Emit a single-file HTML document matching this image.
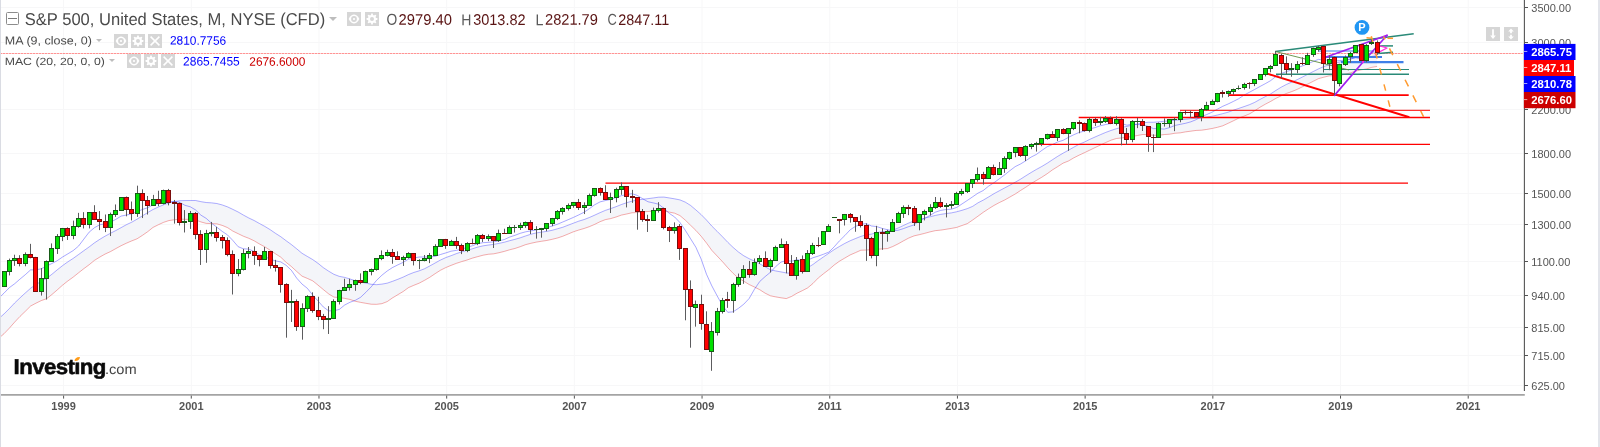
<!DOCTYPE html>
<html><head><meta charset="utf-8"><title>S&amp;P 500 Chart</title>
<style>
html,body{margin:0;padding:0;background:#fff;}
body{width:1600px;height:447px;overflow:hidden;position:relative;font-family:"Liberation Sans",sans-serif;}
#chart{position:absolute;left:0;top:0;width:1600px;height:447px;will-change:transform;}
#lb{position:absolute;left:0;top:0;width:1.2px;height:447px;background:#dadce3;}
#rb{position:absolute;left:1597.8px;top:0;width:2.2px;height:447px;background:#e3e5eb;}
.t{position:absolute;white-space:nowrap;line-height:1;transform-origin:0 0;will-change:transform;}
.ic{position:absolute;background:#d6d6d6;width:14px;height:14px;}
.ic svg{position:absolute;left:0;top:0;}
.arr{position:absolute;width:0;height:0;border-left:3.5px solid transparent;border-right:3.5px solid transparent;border-top:3.5px solid #bdbdbd;}
</style></head><body>
<svg id="chart" width="1600" height="447" viewBox="0 0 1600 447">
<line x1="63.6" y1="0" x2="63.6" y2="395" stroke="#f7f7f8" stroke-width="1"/>
<line x1="191.29" y1="0" x2="191.29" y2="395" stroke="#f7f7f8" stroke-width="1"/>
<line x1="318.98" y1="0" x2="318.98" y2="395" stroke="#f7f7f8" stroke-width="1"/>
<line x1="446.68" y1="0" x2="446.68" y2="395" stroke="#f7f7f8" stroke-width="1"/>
<line x1="574.37" y1="0" x2="574.37" y2="395" stroke="#f7f7f8" stroke-width="1"/>
<line x1="702.06" y1="0" x2="702.06" y2="395" stroke="#f7f7f8" stroke-width="1"/>
<line x1="829.75" y1="0" x2="829.75" y2="395" stroke="#f7f7f8" stroke-width="1"/>
<line x1="957.44" y1="0" x2="957.44" y2="395" stroke="#f7f7f8" stroke-width="1"/>
<line x1="1085.14" y1="0" x2="1085.14" y2="395" stroke="#f7f7f8" stroke-width="1"/>
<line x1="1212.83" y1="0" x2="1212.83" y2="395" stroke="#f7f7f8" stroke-width="1"/>
<line x1="1340.52" y1="0" x2="1340.52" y2="395" stroke="#f7f7f8" stroke-width="1"/>
<line x1="1468.21" y1="0" x2="1468.21" y2="395" stroke="#f7f7f8" stroke-width="1"/>
<line x1="0" y1="7.5" x2="1522.6" y2="7.5" stroke="#f7f7f8" stroke-width="1"/>
<line x1="0" y1="42.5" x2="1522.6" y2="42.5" stroke="#f7f7f8" stroke-width="1"/>
<line x1="0" y1="109.5" x2="1522.6" y2="109.5" stroke="#f7f7f8" stroke-width="1"/>
<line x1="0" y1="153.5" x2="1522.6" y2="153.5" stroke="#f7f7f8" stroke-width="1"/>
<line x1="0" y1="193.5" x2="1522.6" y2="193.5" stroke="#f7f7f8" stroke-width="1"/>
<line x1="0" y1="224.5" x2="1522.6" y2="224.5" stroke="#f7f7f8" stroke-width="1"/>
<line x1="0" y1="261.5" x2="1522.6" y2="261.5" stroke="#f7f7f8" stroke-width="1"/>
<line x1="0" y1="295.5" x2="1522.6" y2="295.5" stroke="#f7f7f8" stroke-width="1"/>
<line x1="0" y1="327.5" x2="1522.6" y2="327.5" stroke="#f7f7f8" stroke-width="1"/>
<line x1="0" y1="355.5" x2="1522.6" y2="355.5" stroke="#f7f7f8" stroke-width="1"/>
<line x1="0" y1="385.5" x2="1522.6" y2="385.5" stroke="#f7f7f8" stroke-width="1"/>
<path d="M-1.31,318.62 L4.01,313.96 L9.33,308.63 L14.65,302.96 L19.97,297.89 L25.3,292.97 L30.62,288.25 L35.94,284.39 L41.26,281.53 L46.58,278.35 L51.91,274.27 L57.23,269.84 L62.55,265.63 L67.87,261.83 L73.19,258.41 L78.52,254.57 L83.84,250.7 L89.16,246.92 L94.48,242.84 L99.8,239.32 L105.13,236.13 L110.45,233.29 L115.77,230.57 L121.09,227.65 L126.41,224.7 L131.74,222.19 L137.06,219.19 L142.38,215.89 L147.7,212.55 L153.02,209.5 L158.35,206.96 L163.67,204.8 L168.99,202.88 L174.31,201.58 L179.63,200.72 L184.96,200.58 L190.28,200.53 L195.6,200.5 L200.92,201.66 L206.24,202.52 L211.57,202.87 L216.89,203.53 L222.21,204.95 L227.53,206.86 L232.85,209.38 L238.18,212.02 L243.5,215.14 L248.82,218.01 L254.14,220.52 L259.46,223.5 L264.79,226.4 L270.11,229.63 L275.43,233.31 L280.75,236.7 L286.07,240.69 L291.4,244.57 L296.72,248.85 L302.04,253.31 L307.36,256.46 L312.68,259.55 L318.01,263.34 L323.33,267.63 L328.65,271.18 L333.97,274.35 L339.29,276.37 L344.62,277.39 L349.94,278.98 L355.26,280.74 L360.58,282.23 L365.9,283.07 L371.23,284.29 L376.55,284.68 L381.87,284.14 L387.19,283.17 L392.51,281.32 L397.84,279.3 L403.16,277.11 L408.48,274.57 L413.8,272.47 L419.12,270.85 L424.45,268.81 L429.77,265.97 L435.09,263.02 L440.41,260.09 L445.73,257.61 L451.06,255.69 L456.38,253.62 L461.7,251.89 L467.02,250.37 L472.34,248.81 L477.67,247.11 L482.99,245.87 L488.31,245.05 L493.63,244.37 L498.95,243.38 L504.28,242.23 L509.6,240.71 L514.92,239.35 L520.24,237.82 L525.56,235.96 L530.89,234.24 L536.21,232.93 L541.53,232.13 L546.85,231.35 L552.17,230.29 L557.5,228.77 L562.82,227.24 L568.14,225.2 L573.46,223.17 L578.78,221.15 L584.11,219.55 L589.43,217.48 L594.75,215.11 L600.07,212.65 L605.39,210.38 L610.72,208.59 L616.04,206.69 L621.36,204.54 L626.68,202.71 L632,201.15 L637.33,200.06 L642.65,199.27 L647.97,198.67 L653.29,197.94 L658.61,197.2 L663.94,197.09 L669.26,197.95 L674.58,198.84 L679.9,199.88 L685.22,202.1 L690.55,205.41 L695.87,209.92 L701.19,214.63 L706.51,220.06 L711.83,226.11 L717.16,231.39 L722.48,236.74 L727.8,242.33 L733.12,247.43 L738.44,252.01 L743.77,255.78 L749.09,258.66 L754.41,261.09 L759.73,263.84 L765.05,266.78 L770.38,269.78 L775.7,270.93 L781.02,271.91 L786.34,272.93 L791.66,273.31 L796.99,272.12 L802.31,269.93 L807.63,267.73 L812.95,264.46 L818.27,260.52 L823.6,256.84 L828.92,253.23 L834.24,249.54 L839.56,246.4 L844.88,243.39 L850.21,240.74 L855.53,238.54 L860.85,236.38 L866.17,234.81 L871.49,234.11 L876.82,232.53 L882.14,231.69 L887.46,231.26 L892.78,230.15 L898.1,228.03 L903.43,225.49 L908.75,223.02 L914.07,220.87 L919.39,219.49 L924.71,218.14 L930.04,216.81 L935.36,215.41 L940.68,214.39 L946,213.57 L951.32,212.9 L956.65,211.79 L961.97,210.32 L967.29,208.64 L972.61,206.38 L977.93,202.86 L983.26,200.12 L988.58,196.97 L993.9,193.72 L999.22,190.84 L1004.54,187.99 L1009.87,185.2 L1015.19,182.22 L1020.51,179.21 L1025.83,175.79 L1031.15,172.49 L1036.48,169.39 L1041.8,166.47 L1047.12,163.28 L1052.44,159.76 L1057.76,156.3 L1063.09,153.18 L1068.41,150.24 L1073.73,147.23 L1079.05,144.31 L1084.37,142.08 L1089.7,139.4 L1095.02,137.02 L1100.34,134.69 L1105.66,132.44 L1110.98,130.48 L1116.31,128.74 L1121.63,127.31 L1126.95,126.4 L1132.27,125.18 L1137.59,123.94 L1142.92,122.84 L1148.24,122.24 L1153.56,122.27 L1158.88,121.84 L1164.2,121.28 L1169.53,120.84 L1174.85,120.31 L1180.17,119.78 L1185.49,119.25 L1190.81,118.65 L1196.14,118.39 L1201.46,117.89 L1206.78,117.11 L1212.1,116.26 L1217.42,115.02 L1222.75,113.65 L1228.07,112.21 L1233.39,110.21 L1238.71,108.42 L1244.03,106.61 L1249.36,104.72 L1254.68,102.38 L1260,99.42 L1265.32,96.65 L1270.64,93.92 L1275.97,90.38 L1281.29,87.14 L1286.61,84.35 L1291.93,82.04 L1297.25,79.62 L1302.58,76.93 L1307.9,74.23 L1313.22,71.54 L1318.54,68.87 L1323.86,66.53 L1329.19,64.85 L1334.51,63.22 L1339.83,62.05 L1345.15,60.61 L1350.47,59.12 L1355.8,57.31 L1361.12,55.61 L1366.44,54.13 L1371.76,52.71 L1377.08,51.49 L1377.08,66.44 L1371.76,67.33 L1366.44,68.95 L1361.12,69.82 L1355.8,71.09 L1350.47,72.9 L1345.15,74.23 L1339.83,75.4 L1334.51,75.79 L1329.19,75.87 L1323.86,77.19 L1318.54,78.62 L1313.22,81.31 L1307.9,84 L1302.58,86.74 L1297.25,89.35 L1291.93,91.52 L1286.61,93.39 L1281.29,95.77 L1275.97,98.31 L1270.64,101.44 L1265.32,104.2 L1260,107.24 L1254.68,110.76 L1249.36,113.96 L1244.03,116.13 L1238.71,118.13 L1233.39,120.8 L1228.07,123.34 L1222.75,125.8 L1217.42,127.3 L1212.1,128.47 L1206.78,129.43 L1201.46,130.19 L1196.14,130.43 L1190.81,131.17 L1185.49,131.89 L1180.17,132.85 L1174.85,133.26 L1169.53,134.21 L1164.2,134.56 L1158.88,135.28 L1153.56,135.31 L1148.24,134.72 L1142.92,134.46 L1137.59,135.46 L1132.27,136.5 L1126.95,137.38 L1121.63,137.95 L1116.31,138.51 L1110.98,140.21 L1105.66,142.57 L1100.34,145.11 L1095.02,147.59 L1089.7,150.18 L1084.37,152.72 L1079.05,155.2 L1073.73,157.89 L1068.41,161.02 L1063.09,163.14 L1057.76,166.59 L1052.44,169.89 L1047.12,173.78 L1041.8,177.23 L1036.48,180.4 L1031.15,183.59 L1025.83,187.17 L1020.51,190.54 L1015.19,194.02 L1009.87,197.05 L1004.54,200.08 L999.22,202.62 L993.9,205.49 L988.58,208.8 L983.26,212.32 L977.93,216.22 L972.61,220.04 L967.29,223.66 L961.97,225.5 L956.65,227.43 L951.32,228.41 L946,229.29 L940.68,230.11 L935.36,230.65 L930.04,231.86 L924.71,233.33 L919.39,234.67 L914.07,235.86 L908.75,238.02 L903.43,240.89 L898.1,243.89 L892.78,246.52 L887.46,248.55 L882.14,248.86 L876.82,249.37 L871.49,249.66 L866.17,250.06 L860.85,250.21 L855.53,252.62 L850.21,254.91 L844.88,258.03 L839.56,261.15 L834.24,264.97 L828.92,269.58 L823.6,273.67 L818.27,277.96 L812.95,283.47 L807.63,287.9 L802.31,290.67 L796.99,293.23 L791.66,296.37 L786.34,298.58 L781.02,297.81 L775.7,296.89 L770.38,295.77 L765.05,293.13 L759.73,289.69 L754.41,287 L749.09,284.47 L743.77,281.21 L738.44,278.19 L733.12,273.33 L727.8,267.75 L722.48,261.68 L717.16,256.03 L711.83,250.39 L706.51,243.06 L701.19,236.29 L695.87,230.4 L690.55,225.26 L685.22,220.06 L679.9,215.57 L674.58,213.18 L669.26,212.08 L663.94,210.8 L658.61,210.37 L653.29,211.02 L647.97,211.52 L642.65,211.78 L637.33,212.55 L632,212.75 L626.68,213.99 L621.36,215.1 L616.04,217.01 L610.72,218.59 L605.39,219.61 L600.07,221.7 L594.75,224.34 L589.43,226.64 L584.11,228.48 L578.78,230.03 L573.46,231.77 L568.14,234.03 L562.82,236.23 L557.5,237.99 L552.17,239.31 L546.85,240.46 L541.53,241.25 L536.21,242.13 L530.89,243.31 L525.56,244.66 L520.24,246.7 L514.92,248.47 L509.6,249.79 L504.28,251.4 L498.95,252.73 L493.63,253.83 L488.31,254.25 L482.99,255.22 L477.67,256.65 L472.34,258.14 L467.02,260.04 L461.7,261.59 L456.38,263.34 L451.06,265.38 L445.73,267.6 L440.41,270.29 L435.09,273.69 L429.77,277.29 L424.45,280.36 L419.12,283.19 L413.8,285.3 L408.48,287.61 L403.16,291.52 L397.84,294.7 L392.51,297.9 L387.19,301.6 L381.87,303.66 L376.55,304.34 L371.23,304.22 L365.9,303.3 L360.58,302.36 L355.26,301.27 L349.94,299.44 L344.62,298.35 L339.29,297.6 L333.97,297.11 L328.65,293.89 L323.33,289.57 L318.01,285.12 L312.68,280.82 L307.36,278.41 L302.04,276.17 L296.72,271.46 L291.4,266.56 L286.07,262.31 L280.75,257.18 L275.43,253.75 L270.11,250.22 L264.79,246.82 L259.46,243.97 L254.14,240.81 L248.82,238.29 L243.5,236.28 L238.18,233.7 L232.85,231.1 L227.53,227.61 L222.21,225.38 L216.89,223.85 L211.57,223.6 L206.24,223.39 L200.92,221.93 L195.6,219.88 L190.28,219.37 L184.96,219.34 L179.63,219.12 L174.31,219.77 L168.99,220.54 L163.67,222.32 L158.35,224.74 L153.02,227.41 L147.7,231.69 L142.38,235.39 L137.06,238.8 L131.74,240.89 L126.41,243.18 L121.09,245.72 L115.77,248.62 L110.45,251.61 L105.13,254.04 L99.8,257.05 L94.48,260.35 L89.16,264.73 L83.84,268.67 L78.52,272.83 L73.19,277.12 L67.87,280.93 L62.55,285.16 L57.23,289.93 L51.91,294.5 L46.58,298.72 L41.26,300.58 L35.94,303.19 L30.62,306.04 L25.3,311.32 L19.97,316.44 L14.65,322.14 L9.33,328.17 L4.01,333.74 L-1.31,338.34Z" fill="#f4f5f9" stroke="none"/>
<path d="M-1.31,318.62 L4.01,313.96 L9.33,308.63 L14.65,302.96 L19.97,297.89 L25.3,292.97 L30.62,288.25 L35.94,284.39 L41.26,281.53 L46.58,278.35 L51.91,274.27 L57.23,269.84 L62.55,265.63 L67.87,261.83 L73.19,258.41 L78.52,254.57 L83.84,250.7 L89.16,246.92 L94.48,242.84 L99.8,239.32 L105.13,236.13 L110.45,233.29 L115.77,230.57 L121.09,227.65 L126.41,224.7 L131.74,222.19 L137.06,219.19 L142.38,215.89 L147.7,212.55 L153.02,209.5 L158.35,206.96 L163.67,204.8 L168.99,202.88 L174.31,201.58 L179.63,200.72 L184.96,200.58 L190.28,200.53 L195.6,200.5 L200.92,201.66 L206.24,202.52 L211.57,202.87 L216.89,203.53 L222.21,204.95 L227.53,206.86 L232.85,209.38 L238.18,212.02 L243.5,215.14 L248.82,218.01 L254.14,220.52 L259.46,223.5 L264.79,226.4 L270.11,229.63 L275.43,233.31 L280.75,236.7 L286.07,240.69 L291.4,244.57 L296.72,248.85 L302.04,253.31 L307.36,256.46 L312.68,259.55 L318.01,263.34 L323.33,267.63 L328.65,271.18 L333.97,274.35 L339.29,276.37 L344.62,277.39 L349.94,278.98 L355.26,280.74 L360.58,282.23 L365.9,283.07 L371.23,284.29 L376.55,284.68 L381.87,284.14 L387.19,283.17 L392.51,281.32 L397.84,279.3 L403.16,277.11 L408.48,274.57 L413.8,272.47 L419.12,270.85 L424.45,268.81 L429.77,265.97 L435.09,263.02 L440.41,260.09 L445.73,257.61 L451.06,255.69 L456.38,253.62 L461.7,251.89 L467.02,250.37 L472.34,248.81 L477.67,247.11 L482.99,245.87 L488.31,245.05 L493.63,244.37 L498.95,243.38 L504.28,242.23 L509.6,240.71 L514.92,239.35 L520.24,237.82 L525.56,235.96 L530.89,234.24 L536.21,232.93 L541.53,232.13 L546.85,231.35 L552.17,230.29 L557.5,228.77 L562.82,227.24 L568.14,225.2 L573.46,223.17 L578.78,221.15 L584.11,219.55 L589.43,217.48 L594.75,215.11 L600.07,212.65 L605.39,210.38 L610.72,208.59 L616.04,206.69 L621.36,204.54 L626.68,202.71 L632,201.15 L637.33,200.06 L642.65,199.27 L647.97,198.67 L653.29,197.94 L658.61,197.2 L663.94,197.09 L669.26,197.95 L674.58,198.84 L679.9,199.88 L685.22,202.1 L690.55,205.41 L695.87,209.92 L701.19,214.63 L706.51,220.06 L711.83,226.11 L717.16,231.39 L722.48,236.74 L727.8,242.33 L733.12,247.43 L738.44,252.01 L743.77,255.78 L749.09,258.66 L754.41,261.09 L759.73,263.84 L765.05,266.78 L770.38,269.78 L775.7,270.93 L781.02,271.91 L786.34,272.93 L791.66,273.31 L796.99,272.12 L802.31,269.93 L807.63,267.73 L812.95,264.46 L818.27,260.52 L823.6,256.84 L828.92,253.23 L834.24,249.54 L839.56,246.4 L844.88,243.39 L850.21,240.74 L855.53,238.54 L860.85,236.38 L866.17,234.81 L871.49,234.11 L876.82,232.53 L882.14,231.69 L887.46,231.26 L892.78,230.15 L898.1,228.03 L903.43,225.49 L908.75,223.02 L914.07,220.87 L919.39,219.49 L924.71,218.14 L930.04,216.81 L935.36,215.41 L940.68,214.39 L946,213.57 L951.32,212.9 L956.65,211.79 L961.97,210.32 L967.29,208.64 L972.61,206.38 L977.93,202.86 L983.26,200.12 L988.58,196.97 L993.9,193.72 L999.22,190.84 L1004.54,187.99 L1009.87,185.2 L1015.19,182.22 L1020.51,179.21 L1025.83,175.79 L1031.15,172.49 L1036.48,169.39 L1041.8,166.47 L1047.12,163.28 L1052.44,159.76 L1057.76,156.3 L1063.09,153.18 L1068.41,150.24 L1073.73,147.23 L1079.05,144.31 L1084.37,142.08 L1089.7,139.4 L1095.02,137.02 L1100.34,134.69 L1105.66,132.44 L1110.98,130.48 L1116.31,128.74 L1121.63,127.31 L1126.95,126.4 L1132.27,125.18 L1137.59,123.94 L1142.92,122.84 L1148.24,122.24 L1153.56,122.27 L1158.88,121.84 L1164.2,121.28 L1169.53,120.84 L1174.85,120.31 L1180.17,119.78 L1185.49,119.25 L1190.81,118.65 L1196.14,118.39 L1201.46,117.89 L1206.78,117.11 L1212.1,116.26 L1217.42,115.02 L1222.75,113.65 L1228.07,112.21 L1233.39,110.21 L1238.71,108.42 L1244.03,106.61 L1249.36,104.72 L1254.68,102.38 L1260,99.42 L1265.32,96.65 L1270.64,93.92 L1275.97,90.38 L1281.29,87.14 L1286.61,84.35 L1291.93,82.04 L1297.25,79.62 L1302.58,76.93 L1307.9,74.23 L1313.22,71.54 L1318.54,68.87 L1323.86,66.53 L1329.19,64.85 L1334.51,63.22 L1339.83,62.05 L1345.15,60.61 L1350.47,59.12 L1355.8,57.31 L1361.12,55.61 L1366.44,54.13 L1371.76,52.71 L1377.08,51.49" fill="none" stroke="#2222ff" stroke-width="0.6" stroke-opacity="0.62" stroke-linejoin="round"/>
<path d="M-1.31,338.34 L4.01,333.74 L9.33,328.17 L14.65,322.14 L19.97,316.44 L25.3,311.32 L30.62,306.04 L35.94,303.19 L41.26,300.58 L46.58,298.72 L51.91,294.5 L57.23,289.93 L62.55,285.16 L67.87,280.93 L73.19,277.12 L78.52,272.83 L83.84,268.67 L89.16,264.73 L94.48,260.35 L99.8,257.05 L105.13,254.04 L110.45,251.61 L115.77,248.62 L121.09,245.72 L126.41,243.18 L131.74,240.89 L137.06,238.8 L142.38,235.39 L147.7,231.69 L153.02,227.41 L158.35,224.74 L163.67,222.32 L168.99,220.54 L174.31,219.77 L179.63,219.12 L184.96,219.34 L190.28,219.37 L195.6,219.88 L200.92,221.93 L206.24,223.39 L211.57,223.6 L216.89,223.85 L222.21,225.38 L227.53,227.61 L232.85,231.1 L238.18,233.7 L243.5,236.28 L248.82,238.29 L254.14,240.81 L259.46,243.97 L264.79,246.82 L270.11,250.22 L275.43,253.75 L280.75,257.18 L286.07,262.31 L291.4,266.56 L296.72,271.46 L302.04,276.17 L307.36,278.41 L312.68,280.82 L318.01,285.12 L323.33,289.57 L328.65,293.89 L333.97,297.11 L339.29,297.6 L344.62,298.35 L349.94,299.44 L355.26,301.27 L360.58,302.36 L365.9,303.3 L371.23,304.22 L376.55,304.34 L381.87,303.66 L387.19,301.6 L392.51,297.9 L397.84,294.7 L403.16,291.52 L408.48,287.61 L413.8,285.3 L419.12,283.19 L424.45,280.36 L429.77,277.29 L435.09,273.69 L440.41,270.29 L445.73,267.6 L451.06,265.38 L456.38,263.34 L461.7,261.59 L467.02,260.04 L472.34,258.14 L477.67,256.65 L482.99,255.22 L488.31,254.25 L493.63,253.83 L498.95,252.73 L504.28,251.4 L509.6,249.79 L514.92,248.47 L520.24,246.7 L525.56,244.66 L530.89,243.31 L536.21,242.13 L541.53,241.25 L546.85,240.46 L552.17,239.31 L557.5,237.99 L562.82,236.23 L568.14,234.03 L573.46,231.77 L578.78,230.03 L584.11,228.48 L589.43,226.64 L594.75,224.34 L600.07,221.7 L605.39,219.61 L610.72,218.59 L616.04,217.01 L621.36,215.1 L626.68,213.99 L632,212.75 L637.33,212.55 L642.65,211.78 L647.97,211.52 L653.29,211.02 L658.61,210.37 L663.94,210.8 L669.26,212.08 L674.58,213.18 L679.9,215.57 L685.22,220.06 L690.55,225.26 L695.87,230.4 L701.19,236.29 L706.51,243.06 L711.83,250.39 L717.16,256.03 L722.48,261.68 L727.8,267.75 L733.12,273.33 L738.44,278.19 L743.77,281.21 L749.09,284.47 L754.41,287 L759.73,289.69 L765.05,293.13 L770.38,295.77 L775.7,296.89 L781.02,297.81 L786.34,298.58 L791.66,296.37 L796.99,293.23 L802.31,290.67 L807.63,287.9 L812.95,283.47 L818.27,277.96 L823.6,273.67 L828.92,269.58 L834.24,264.97 L839.56,261.15 L844.88,258.03 L850.21,254.91 L855.53,252.62 L860.85,250.21 L866.17,250.06 L871.49,249.66 L876.82,249.37 L882.14,248.86 L887.46,248.55 L892.78,246.52 L898.1,243.89 L903.43,240.89 L908.75,238.02 L914.07,235.86 L919.39,234.67 L924.71,233.33 L930.04,231.86 L935.36,230.65 L940.68,230.11 L946,229.29 L951.32,228.41 L956.65,227.43 L961.97,225.5 L967.29,223.66 L972.61,220.04 L977.93,216.22 L983.26,212.32 L988.58,208.8 L993.9,205.49 L999.22,202.62 L1004.54,200.08 L1009.87,197.05 L1015.19,194.02 L1020.51,190.54 L1025.83,187.17 L1031.15,183.59 L1036.48,180.4 L1041.8,177.23 L1047.12,173.78 L1052.44,169.89 L1057.76,166.59 L1063.09,163.14 L1068.41,161.02 L1073.73,157.89 L1079.05,155.2 L1084.37,152.72 L1089.7,150.18 L1095.02,147.59 L1100.34,145.11 L1105.66,142.57 L1110.98,140.21 L1116.31,138.51 L1121.63,137.95 L1126.95,137.38 L1132.27,136.5 L1137.59,135.46 L1142.92,134.46 L1148.24,134.72 L1153.56,135.31 L1158.88,135.28 L1164.2,134.56 L1169.53,134.21 L1174.85,133.26 L1180.17,132.85 L1185.49,131.89 L1190.81,131.17 L1196.14,130.43 L1201.46,130.19 L1206.78,129.43 L1212.1,128.47 L1217.42,127.3 L1222.75,125.8 L1228.07,123.34 L1233.39,120.8 L1238.71,118.13 L1244.03,116.13 L1249.36,113.96 L1254.68,110.76 L1260,107.24 L1265.32,104.2 L1270.64,101.44 L1275.97,98.31 L1281.29,95.77 L1286.61,93.39 L1291.93,91.52 L1297.25,89.35 L1302.58,86.74 L1307.9,84 L1313.22,81.31 L1318.54,78.62 L1323.86,77.19 L1329.19,75.87 L1334.51,75.79 L1339.83,75.4 L1345.15,74.23 L1350.47,72.9 L1355.8,71.09 L1361.12,69.82 L1366.44,68.95 L1371.76,67.33 L1377.08,66.44" fill="none" stroke="#e02020" stroke-width="0.6" stroke-opacity="0.62" stroke-linejoin="round"/>
<path d="M-11.96,308.87 L-6.64,303.08 L-1.31,298.34 L4.01,293.13 L9.33,287.65 L14.65,283.76 L19.97,279.11 L25.3,274.68 L30.62,269.89 L35.94,269.84 L41.26,268.77 L46.58,266.08 L51.91,263.51 L57.23,260.68 L62.55,257 L67.87,253.82 L73.19,250.58 L78.52,246.11 L83.84,239.11 L89.16,232.11 L94.48,227.7 L99.8,224.74 L105.13,223.74 L110.45,222.19 L115.77,219.42 L121.09,216.1 L126.41,215.04 L131.74,213.89 L137.06,211.65 L142.38,209.48 L147.7,207.74 L153.02,204.78 L158.35,203.62 L163.67,201.44 L168.99,201.99 L174.31,201.4 L179.63,202.27 L184.96,205.31 L190.28,206.79 L195.6,209.93 L200.92,215.15 L206.24,218.42 L211.57,223.24 L216.89,227.22 L222.21,231.4 L227.53,234.93 L232.85,240.48 L238.18,246.73 L243.5,248.82 L248.82,249.08 L254.14,251.59 L259.46,254.77 L264.79,256.43 L270.11,259.35 L275.43,260.81 L280.75,261.95 L286.07,265.26 L291.4,270.35 L296.72,278.17 L302.04,284.09 L307.36,288.32 L312.68,295.12 L318.01,300.91 L323.33,306.99 L328.65,310.88 L333.97,310.74 L339.29,309.42 L344.62,305.08 L349.94,302.27 L355.26,300.36 L360.58,297.31 L365.9,292.28 L371.23,286.82 L376.55,280.36 L381.87,275.24 L387.19,271.01 L392.51,267.52 L397.84,264.88 L403.16,262.36 L408.48,259.16 L413.8,258.04 L419.12,257.04 L424.45,256.98 L429.77,257 L435.09,256.38 L440.41,254.53 L445.73,252.95 L451.06,251.19 L456.38,250.35 L461.7,249.19 L467.02,247.37 L472.34,245.79 L477.67,243.65 L482.99,242.7 L488.31,242.36 L493.63,241.84 L498.95,240.91 L504.28,239.55 L509.6,237.09 L514.92,235.34 L520.24,233.31 L525.56,231.83 L530.89,230.86 L536.21,230.07 L541.53,228.74 L546.85,227.7 L552.17,226.05 L557.5,224.21 L562.82,221.98 L568.14,219.71 L573.46,217.39 L578.78,214.92 L584.11,212.24 L589.43,208.63 L594.75,204.72 L600.07,201.88 L605.39,200.57 L610.72,199.35 L616.04,197.55 L621.36,195.71 L626.68,194.5 L632,193.73 L637.33,195.42 L642.65,198.72 L647.97,201.75 L653.29,202.92 L658.61,204.18 L663.94,208.42 L669.26,213.38 L674.58,216.94 L679.9,222.47 L685.22,230.2 L690.55,238.7 L695.87,247.24 L701.19,259.18 L706.51,274.27 L711.83,285.89 L717.16,295.89 L722.48,305.52 L727.8,312.32 L733.12,311.8 L738.44,308.36 L743.77,304.18 L749.09,298.59 L754.41,289.33 L759.73,281.49 L765.05,276.66 L770.38,272.3 L775.7,266.56 L781.02,262.09 L786.34,260.57 L791.66,261.15 L796.99,259.71 L802.31,260.73 L807.63,260.15 L812.95,257.76 L818.27,256.11 L823.6,254.21 L828.92,252.09 L834.24,246.77 L839.56,240.74 L844.88,235.52 L850.21,229.78 L855.53,226.37 L860.85,224.32 L866.17,223.6 L871.49,225.97 L876.82,226.59 L882.14,228.41 L887.46,229.71 L892.78,230.7 L898.1,230.3 L903.43,228.62 L908.75,226.62 L914.07,224.9 L919.39,220.61 L924.71,218.31 L930.04,215.42 L935.36,212.16 L940.68,210.41 L946,209.52 L951.32,209.21 L956.65,207.47 L961.97,203.96 L967.29,200.46 L972.61,196.83 L977.93,193.17 L983.26,190.5 L988.58,186.16 L993.9,182.78 L999.22,178.87 L1004.54,174.98 L1009.87,170.68 L1015.19,166.63 L1020.51,163.99 L1025.83,160.76 L1031.15,157.07 L1036.48,154.37 L1041.8,150.45 L1047.12,146.77 L1052.44,144.49 L1057.76,141.94 L1063.09,140.36 L1068.41,137.38 L1073.73,134.78 L1079.05,132.47 L1084.37,131.11 L1089.7,128.91 L1095.02,127.62 L1100.34,125.76 L1105.66,124.53 L1110.98,123.45 L1116.31,122.44 L1121.63,123.57 L1126.95,125.21 L1132.27,124.21 L1137.59,124.5 L1142.92,124.78 L1148.24,126.51 L1153.56,128.62 L1158.88,128.66 L1164.2,129.12 L1169.53,127.62 L1174.85,125.48 L1180.17,124.36 L1185.49,123.29 L1190.81,121.83 L1196.14,119.66 L1201.46,116.59 L1206.78,114.56 L1212.1,112.15 L1217.42,109.18 L1222.75,106.29 L1228.07,104 L1233.39,101.42 L1238.71,98.71 L1244.03,95.12 L1249.36,92.31 L1254.68,89.46 L1260,86.48 L1265.32,83.67 L1270.64,80.64 L1275.97,76.41 L1281.29,73.56 L1286.61,71.53 L1291.93,69.88 L1297.25,67.73 L1302.58,65.92 L1307.9,63.74 L1313.22,61.48 L1318.54,59.35 L1323.86,60.34 L1329.19,59.93 L1334.51,61.11 L1339.83,60.62 L1345.15,59.92 L1350.47,58.9 L1355.8,57.76 L1361.12,59.07 L1366.44,58.83 L1371.76,56.48 L1377.08,55.73" fill="none" stroke="#2222ff" stroke-width="0.6" stroke-opacity="0.66" stroke-linejoin="round"/>
<line x1="0" y1="53.5" x2="1522.7" y2="53.5" stroke="#ff3030" stroke-width="0.9" stroke-opacity="0.25"/>
<line x1="0" y1="53.5" x2="1522.7" y2="53.5" stroke="#ff3030" stroke-width="0.9" stroke-dasharray="2 1" stroke-opacity="0.42"/>
<line x1="605.5" y1="183.1" x2="1408" y2="183.1" stroke="#ff0000" stroke-width="1.4" />
<line x1="1034" y1="144.4" x2="1430" y2="144.4" stroke="#ff0000" stroke-width="1.3" />
<line x1="1078.7" y1="117.5" x2="1430" y2="117.5" stroke="#ff0000" stroke-width="1.5" />
<line x1="1180" y1="110.3" x2="1430" y2="110.3" stroke="#ff0000" stroke-width="1.0" />
<line x1="1228" y1="95.1" x2="1408.7" y2="95.1" stroke="#ff0000" stroke-width="1.8" />
<line x1="1268" y1="73.9" x2="1408.6" y2="117" stroke="#ff0000" stroke-width="2.0" stroke-linecap="round"/>
<line x1="1275.4" y1="51.5" x2="1413.7" y2="33.8" stroke="#2a8a78" stroke-width="1.4" />
<line x1="1276" y1="74.3" x2="1409" y2="74.3" stroke="#2a8a78" stroke-width="1.4" />
<line x1="1324" y1="69.5" x2="1409" y2="69.5" stroke="#2a8a78" stroke-width="1.2" />
<line x1="1380" y1="45.9" x2="1393" y2="45.9" stroke="#2a8a78" stroke-width="1.5" />
<line x1="1378" y1="53.4" x2="1393" y2="52.3" stroke="#2a8a78" stroke-width="1.5" />
<line x1="1275.4" y1="51.5" x2="1349" y2="70" stroke="#5f8f3f" stroke-width="0.9" />
<line x1="1318" y1="51" x2="1374" y2="51" stroke="#3f7fe8" stroke-width="1.0" />
<line x1="1326" y1="57.1" x2="1382" y2="57.1" stroke="#3f7fe8" stroke-width="2.0" />
<line x1="1341" y1="62.2" x2="1403.5" y2="62.2" stroke="#3f7fe8" stroke-width="2.2" />
<path d="M1334.5,95.4 L1363,62 L1387.1,35.3" fill="none" stroke="#a020f0" stroke-width="1.7" stroke-linecap="round" stroke-linejoin="round"/>
<circle cx="1363" cy="61.8" r="1.1" fill="#ff30e0"/>
<line x1="1325.5" y1="57.2" x2="1387.1" y2="35.3" stroke="#a020f0" stroke-width="1.7" stroke-linecap="round"/>
<path d="M1379,45.6 L1387,48 L1374.8,54.3" fill="none" stroke="#ff30e0" stroke-width="1.3" stroke-linejoin="round"/>
<line x1="1366.5" y1="37.8" x2="1371.5" y2="38.3" stroke="#ff9a2e" stroke-width="1.5" />
<line x1="1371.3" y1="36.2" x2="1389.9" y2="106.8" stroke="#ff9a2e" stroke-width="1.5" stroke-dasharray="6.5 10.1"/>
<line x1="1387.5" y1="38.3" x2="1393" y2="38.3" stroke="#ff9a2e" stroke-width="1.5" />
<line x1="1383.5" y1="36.5" x2="1423.6" y2="116.8" stroke="#ff9a2e" stroke-width="1.5" stroke-dasharray="7.5 10" stroke-dashoffset="4.2"/>
<line x1="4.5" y1="271.02" x2="4.5" y2="286.42" stroke="#5c5c5e" stroke-width="1"/>
<rect x="2.5" y="271.5" width="4" height="15" fill="#00e000" stroke="#175c17" stroke-width="1"/>
<line x1="9.5" y1="258.6" x2="9.5" y2="275.4" stroke="#5c5c5e" stroke-width="1"/>
<rect x="7.5" y="260.5" width="4" height="11" fill="#00e000" stroke="#175c17" stroke-width="1"/>
<line x1="14.5" y1="254.71" x2="14.5" y2="265.87" stroke="#5c5c5e" stroke-width="1"/>
<rect x="12.5" y="258.5" width="4" height="2" fill="#00e000" stroke="#175c17" stroke-width="1"/>
<line x1="19.5" y1="255.19" x2="19.5" y2="266.34" stroke="#5c5c5e" stroke-width="1"/>
<rect x="17.5" y="258.5" width="4" height="5" fill="#ff0000" stroke="#7a0c0c" stroke-width="1"/>
<line x1="25.5" y1="252.37" x2="25.5" y2="266.28" stroke="#5c5c5e" stroke-width="1"/>
<rect x="23.5" y="254.5" width="4" height="9" fill="#00e000" stroke="#175c17" stroke-width="1"/>
<line x1="30.5" y1="243.85" x2="30.5" y2="258.35" stroke="#5c5c5e" stroke-width="1"/>
<rect x="28.5" y="254.5" width="4" height="3" fill="#ff0000" stroke="#7a0c0c" stroke-width="1"/>
<line x1="35.5" y1="256.89" x2="35.5" y2="291.62" stroke="#5c5c5e" stroke-width="1"/>
<rect x="33.5" y="257.5" width="4" height="34" fill="#ff0000" stroke="#7a0c0c" stroke-width="1"/>
<line x1="41.5" y1="268.04" x2="41.5" y2="295.61" stroke="#5c5c5e" stroke-width="1"/>
<rect x="39.5" y="278.5" width="4" height="13" fill="#00e000" stroke="#175c17" stroke-width="1"/>
<line x1="46.5" y1="260.43" x2="46.5" y2="299.53" stroke="#5c5c5e" stroke-width="1"/>
<rect x="44.5" y="261.5" width="4" height="17" fill="#00e000" stroke="#175c17" stroke-width="1"/>
<line x1="51.5" y1="243.41" x2="51.5" y2="261.45" stroke="#5c5c5e" stroke-width="1"/>
<rect x="49.5" y="248.5" width="4" height="13" fill="#00e000" stroke="#175c17" stroke-width="1"/>
<line x1="57.5" y1="234.08" x2="57.5" y2="253.96" stroke="#5c5c5e" stroke-width="1"/>
<rect x="55.5" y="236.5" width="4" height="12" fill="#00e000" stroke="#175c17" stroke-width="1"/>
<line x1="62.5" y1="227.93" x2="62.5" y2="241.13" stroke="#5c5c5e" stroke-width="1"/>
<rect x="60.5" y="228.5" width="4" height="8" fill="#00e000" stroke="#175c17" stroke-width="1"/>
<line x1="67.5" y1="227.34" x2="67.5" y2="239.97" stroke="#5c5c5e" stroke-width="1"/>
<rect x="65.5" y="228.5" width="4" height="7" fill="#ff0000" stroke="#7a0c0c" stroke-width="1"/>
<line x1="73.5" y1="220.62" x2="73.5" y2="239.22" stroke="#5c5c5e" stroke-width="1"/>
<rect x="71.5" y="226.5" width="4" height="9" fill="#00e000" stroke="#175c17" stroke-width="1"/>
<line x1="78.5" y1="212.86" x2="78.5" y2="227.71" stroke="#5c5c5e" stroke-width="1"/>
<rect x="76.5" y="218.5" width="4" height="8" fill="#00e000" stroke="#175c17" stroke-width="1"/>
<line x1="83.5" y1="212.16" x2="83.5" y2="228.45" stroke="#5c5c5e" stroke-width="1"/>
<rect x="81.5" y="218.5" width="4" height="6" fill="#ff0000" stroke="#7a0c0c" stroke-width="1"/>
<line x1="89.5" y1="212.64" x2="89.5" y2="228.43" stroke="#5c5c5e" stroke-width="1"/>
<rect x="87.5" y="212.5" width="4" height="12" fill="#00e000" stroke="#175c17" stroke-width="1"/>
<line x1="94.5" y1="205.21" x2="94.5" y2="219.85" stroke="#5c5c5e" stroke-width="1"/>
<rect x="92.5" y="212.5" width="4" height="7" fill="#ff0000" stroke="#7a0c0c" stroke-width="1"/>
<line x1="99.5" y1="211.07" x2="99.5" y2="230.1" stroke="#5c5c5e" stroke-width="1"/>
<rect x="97.5" y="219.5" width="4" height="2" fill="#ff0000" stroke="#7a0c0c" stroke-width="1"/>
<line x1="105.5" y1="214.49" x2="105.5" y2="232.09" stroke="#5c5c5e" stroke-width="1"/>
<rect x="103.5" y="221.5" width="4" height="6" fill="#ff0000" stroke="#7a0c0c" stroke-width="1"/>
<line x1="110.5" y1="212.61" x2="110.5" y2="236.06" stroke="#5c5c5e" stroke-width="1"/>
<rect x="108.5" y="214.5" width="4" height="13" fill="#00e000" stroke="#175c17" stroke-width="1"/>
<line x1="115.5" y1="204.44" x2="115.5" y2="216.92" stroke="#5c5c5e" stroke-width="1"/>
<rect x="113.5" y="210.5" width="4" height="4" fill="#00e000" stroke="#175c17" stroke-width="1"/>
<line x1="121.5" y1="197.22" x2="121.5" y2="210.35" stroke="#5c5c5e" stroke-width="1"/>
<rect x="119.5" y="197.5" width="4" height="13" fill="#00e000" stroke="#175c17" stroke-width="1"/>
<line x1="126.5" y1="196.49" x2="126.5" y2="216.31" stroke="#5c5c5e" stroke-width="1"/>
<rect x="124.5" y="197.5" width="4" height="12" fill="#ff0000" stroke="#7a0c0c" stroke-width="1"/>
<line x1="131.5" y1="201.51" x2="131.5" y2="220.41" stroke="#5c5c5e" stroke-width="1"/>
<rect x="129.5" y="209.5" width="4" height="4" fill="#ff0000" stroke="#7a0c0c" stroke-width="1"/>
<line x1="137.5" y1="185.67" x2="137.5" y2="216.88" stroke="#5c5c5e" stroke-width="1"/>
<rect x="135.5" y="193.5" width="4" height="20" fill="#00e000" stroke="#175c17" stroke-width="1"/>
<line x1="142.5" y1="189.32" x2="142.5" y2="218.06" stroke="#5c5c5e" stroke-width="1"/>
<rect x="140.5" y="193.5" width="4" height="7" fill="#ff0000" stroke="#7a0c0c" stroke-width="1"/>
<line x1="147.5" y1="195.97" x2="147.5" y2="214.54" stroke="#5c5c5e" stroke-width="1"/>
<rect x="145.5" y="200.5" width="4" height="5" fill="#ff0000" stroke="#7a0c0c" stroke-width="1"/>
<line x1="153.5" y1="194.88" x2="153.5" y2="205.17" stroke="#5c5c5e" stroke-width="1"/>
<rect x="151.5" y="199.5" width="4" height="6" fill="#00e000" stroke="#175c17" stroke-width="1"/>
<line x1="158.5" y1="190.74" x2="158.5" y2="206.21" stroke="#5c5c5e" stroke-width="1"/>
<rect x="156.5" y="199.5" width="4" height="4" fill="#ff0000" stroke="#7a0c0c" stroke-width="1"/>
<line x1="163.5" y1="189.61" x2="163.5" y2="204.43" stroke="#5c5c5e" stroke-width="1"/>
<rect x="161.5" y="190.5" width="4" height="13" fill="#00e000" stroke="#175c17" stroke-width="1"/>
<line x1="168.5" y1="188.91" x2="168.5" y2="205.35" stroke="#5c5c5e" stroke-width="1"/>
<rect x="166.5" y="190.5" width="4" height="12" fill="#ff0000" stroke="#7a0c0c" stroke-width="1"/>
<line x1="174.5" y1="199.96" x2="174.5" y2="223.62" stroke="#5c5c5e" stroke-width="1"/>
<rect x="172.5" y="202.5" width="4" height="1" fill="#ff0000" stroke="#7a0c0c" stroke-width="1"/>
<line x1="179.5" y1="202.43" x2="179.5" y2="225.46" stroke="#5c5c5e" stroke-width="1"/>
<rect x="177.5" y="203.5" width="4" height="19" fill="#ff0000" stroke="#7a0c0c" stroke-width="1"/>
<line x1="184.5" y1="210.09" x2="184.5" y2="232.47" stroke="#5c5c5e" stroke-width="1"/>
<rect x="182.5" y="221.5" width="4" height="1" fill="#00e000" stroke="#175c17" stroke-width="1"/>
<line x1="190.5" y1="210.98" x2="190.5" y2="228.92" stroke="#5c5c5e" stroke-width="1"/>
<rect x="188.5" y="213.5" width="4" height="8" fill="#00e000" stroke="#175c17" stroke-width="1"/>
<line x1="195.5" y1="212.09" x2="195.5" y2="239.33" stroke="#5c5c5e" stroke-width="1"/>
<rect x="193.5" y="213.5" width="4" height="21" fill="#ff0000" stroke="#7a0c0c" stroke-width="1"/>
<line x1="200.5" y1="230.16" x2="200.5" y2="264.96" stroke="#5c5c5e" stroke-width="1"/>
<rect x="198.5" y="234.5" width="4" height="15" fill="#ff0000" stroke="#7a0c0c" stroke-width="1"/>
<line x1="206.5" y1="229.83" x2="206.5" y2="262.78" stroke="#5c5c5e" stroke-width="1"/>
<rect x="204.5" y="233.5" width="4" height="16" fill="#00e000" stroke="#175c17" stroke-width="1"/>
<line x1="211.5" y1="221.93" x2="211.5" y2="236.36" stroke="#5c5c5e" stroke-width="1"/>
<rect x="209.5" y="232.5" width="4" height="1" fill="#00e000" stroke="#175c17" stroke-width="1"/>
<line x1="216.5" y1="226.86" x2="216.5" y2="241.57" stroke="#5c5c5e" stroke-width="1"/>
<rect x="214.5" y="232.5" width="4" height="5" fill="#ff0000" stroke="#7a0c0c" stroke-width="1"/>
<line x1="222.5" y1="234.98" x2="222.5" y2="248.51" stroke="#5c5c5e" stroke-width="1"/>
<rect x="220.5" y="237.5" width="4" height="3" fill="#ff0000" stroke="#7a0c0c" stroke-width="1"/>
<line x1="227.5" y1="237.38" x2="227.5" y2="256.29" stroke="#5c5c5e" stroke-width="1"/>
<rect x="225.5" y="240.5" width="4" height="14" fill="#ff0000" stroke="#7a0c0c" stroke-width="1"/>
<line x1="232.5" y1="250.42" x2="232.5" y2="294.5" stroke="#5c5c5e" stroke-width="1"/>
<rect x="230.5" y="254.5" width="4" height="19" fill="#ff0000" stroke="#7a0c0c" stroke-width="1"/>
<line x1="238.5" y1="259.08" x2="238.5" y2="276.27" stroke="#5c5c5e" stroke-width="1"/>
<rect x="236.5" y="269.5" width="4" height="4" fill="#00e000" stroke="#175c17" stroke-width="1"/>
<line x1="243.5" y1="248.91" x2="243.5" y2="270.47" stroke="#5c5c5e" stroke-width="1"/>
<rect x="241.5" y="253.5" width="4" height="16" fill="#00e000" stroke="#175c17" stroke-width="1"/>
<line x1="248.5" y1="246.99" x2="248.5" y2="258.31" stroke="#5c5c5e" stroke-width="1"/>
<rect x="246.5" y="251.5" width="4" height="2" fill="#00e000" stroke="#175c17" stroke-width="1"/>
<line x1="254.5" y1="246.37" x2="254.5" y2="264.86" stroke="#5c5c5e" stroke-width="1"/>
<rect x="252.5" y="251.5" width="4" height="4" fill="#ff0000" stroke="#7a0c0c" stroke-width="1"/>
<line x1="259.5" y1="255.25" x2="259.5" y2="266.35" stroke="#5c5c5e" stroke-width="1"/>
<rect x="257.5" y="255.5" width="4" height="4" fill="#ff0000" stroke="#7a0c0c" stroke-width="1"/>
<line x1="264.5" y1="246.94" x2="264.5" y2="259.85" stroke="#5c5c5e" stroke-width="1"/>
<rect x="262.5" y="251.5" width="4" height="8" fill="#00e000" stroke="#175c17" stroke-width="1"/>
<line x1="270.5" y1="251.86" x2="270.5" y2="268.58" stroke="#5c5c5e" stroke-width="1"/>
<rect x="268.5" y="251.5" width="4" height="14" fill="#ff0000" stroke="#7a0c0c" stroke-width="1"/>
<line x1="275.5" y1="259.87" x2="275.5" y2="271.59" stroke="#5c5c5e" stroke-width="1"/>
<rect x="273.5" y="265.5" width="4" height="2" fill="#ff0000" stroke="#7a0c0c" stroke-width="1"/>
<line x1="280.5" y1="267.09" x2="280.5" y2="292.62" stroke="#5c5c5e" stroke-width="1"/>
<rect x="278.5" y="267.5" width="4" height="17" fill="#ff0000" stroke="#7a0c0c" stroke-width="1"/>
<line x1="286.5" y1="283.27" x2="286.5" y2="337.68" stroke="#5c5c5e" stroke-width="1"/>
<rect x="284.5" y="284.5" width="4" height="18" fill="#ff0000" stroke="#7a0c0c" stroke-width="1"/>
<line x1="291.5" y1="289.86" x2="291.5" y2="321.96" stroke="#5c5c5e" stroke-width="1"/>
<rect x="289.5" y="301.5" width="4" height="1" fill="#00e000" stroke="#175c17" stroke-width="1"/>
<line x1="296.5" y1="299.36" x2="296.5" y2="330.87" stroke="#5c5c5e" stroke-width="1"/>
<rect x="294.5" y="301.5" width="4" height="25" fill="#ff0000" stroke="#7a0c0c" stroke-width="1"/>
<line x1="302.5" y1="303.33" x2="302.5" y2="339.68" stroke="#5c5c5e" stroke-width="1"/>
<rect x="300.5" y="308.5" width="4" height="18" fill="#00e000" stroke="#175c17" stroke-width="1"/>
<line x1="307.5" y1="295.18" x2="307.5" y2="312.04" stroke="#5c5c5e" stroke-width="1"/>
<rect x="305.5" y="296.5" width="4" height="12" fill="#00e000" stroke="#175c17" stroke-width="1"/>
<line x1="312.5" y1="292.3" x2="312.5" y2="312.69" stroke="#5c5c5e" stroke-width="1"/>
<rect x="310.5" y="296.5" width="4" height="14" fill="#ff0000" stroke="#7a0c0c" stroke-width="1"/>
<line x1="318.5" y1="296.76" x2="318.5" y2="320.15" stroke="#5c5c5e" stroke-width="1"/>
<rect x="316.5" y="310.5" width="4" height="6" fill="#ff0000" stroke="#7a0c0c" stroke-width="1"/>
<line x1="323.5" y1="313.91" x2="323.5" y2="329.21" stroke="#5c5c5e" stroke-width="1"/>
<rect x="321.5" y="316.5" width="4" height="3" fill="#ff0000" stroke="#7a0c0c" stroke-width="1"/>
<line x1="328.5" y1="306.13" x2="328.5" y2="333.98" stroke="#5c5c5e" stroke-width="1"/>
<rect x="326.5" y="318.5" width="4" height="1" fill="#00e000" stroke="#175c17" stroke-width="1"/>
<line x1="333.5" y1="299.31" x2="333.5" y2="318.2" stroke="#5c5c5e" stroke-width="1"/>
<rect x="331.5" y="301.5" width="4" height="17" fill="#00e000" stroke="#175c17" stroke-width="1"/>
<line x1="339.5" y1="289.77" x2="339.5" y2="304.44" stroke="#5c5c5e" stroke-width="1"/>
<rect x="337.5" y="290.5" width="4" height="11" fill="#00e000" stroke="#175c17" stroke-width="1"/>
<line x1="344.5" y1="278.72" x2="344.5" y2="290.18" stroke="#5c5c5e" stroke-width="1"/>
<rect x="342.5" y="287.5" width="4" height="3" fill="#00e000" stroke="#175c17" stroke-width="1"/>
<line x1="349.5" y1="278.71" x2="349.5" y2="290.52" stroke="#5c5c5e" stroke-width="1"/>
<rect x="347.5" y="284.5" width="4" height="3" fill="#00e000" stroke="#175c17" stroke-width="1"/>
<line x1="355.5" y1="279.66" x2="355.5" y2="290.8" stroke="#5c5c5e" stroke-width="1"/>
<rect x="353.5" y="280.5" width="4" height="4" fill="#00e000" stroke="#175c17" stroke-width="1"/>
<line x1="360.5" y1="273.4" x2="360.5" y2="284.18" stroke="#5c5c5e" stroke-width="1"/>
<rect x="358.5" y="280.5" width="4" height="2" fill="#ff0000" stroke="#7a0c0c" stroke-width="1"/>
<line x1="365.5" y1="270.58" x2="365.5" y2="282.94" stroke="#5c5c5e" stroke-width="1"/>
<rect x="363.5" y="271.5" width="4" height="11" fill="#00e000" stroke="#175c17" stroke-width="1"/>
<line x1="371.5" y1="268.54" x2="371.5" y2="275.33" stroke="#5c5c5e" stroke-width="1"/>
<rect x="369.5" y="269.5" width="4" height="2" fill="#00e000" stroke="#175c17" stroke-width="1"/>
<line x1="376.5" y1="258.7" x2="376.5" y2="270.66" stroke="#5c5c5e" stroke-width="1"/>
<rect x="374.5" y="258.5" width="4" height="11" fill="#00e000" stroke="#175c17" stroke-width="1"/>
<line x1="381.5" y1="250.43" x2="381.5" y2="260.17" stroke="#5c5c5e" stroke-width="1"/>
<rect x="379.5" y="255.5" width="4" height="3" fill="#00e000" stroke="#175c17" stroke-width="1"/>
<line x1="387.5" y1="249.74" x2="387.5" y2="256.37" stroke="#5c5c5e" stroke-width="1"/>
<rect x="385.5" y="252.5" width="4" height="3" fill="#00e000" stroke="#175c17" stroke-width="1"/>
<line x1="392.5" y1="248.94" x2="392.5" y2="263.75" stroke="#5c5c5e" stroke-width="1"/>
<rect x="390.5" y="252.5" width="4" height="4" fill="#ff0000" stroke="#7a0c0c" stroke-width="1"/>
<line x1="397.5" y1="251.34" x2="397.5" y2="259.75" stroke="#5c5c5e" stroke-width="1"/>
<rect x="395.5" y="256.5" width="4" height="3" fill="#ff0000" stroke="#7a0c0c" stroke-width="1"/>
<line x1="403.5" y1="255.73" x2="403.5" y2="265.95" stroke="#5c5c5e" stroke-width="1"/>
<rect x="401.5" y="257.5" width="4" height="2" fill="#00e000" stroke="#175c17" stroke-width="1"/>
<line x1="408.5" y1="252.15" x2="408.5" y2="258.55" stroke="#5c5c5e" stroke-width="1"/>
<rect x="406.5" y="253.5" width="4" height="4" fill="#00e000" stroke="#175c17" stroke-width="1"/>
<line x1="413.5" y1="253.2" x2="413.5" y2="265.45" stroke="#5c5c5e" stroke-width="1"/>
<rect x="411.5" y="253.5" width="4" height="7" fill="#ff0000" stroke="#7a0c0c" stroke-width="1"/>
<line x1="419.5" y1="259.26" x2="419.5" y2="269.15" stroke="#5c5c5e" stroke-width="1"/>
<rect x="417" y="260" width="5" height="1" fill="#175c17"/>
<line x1="424.5" y1="254.99" x2="424.5" y2="261.35" stroke="#5c5c5e" stroke-width="1"/>
<rect x="422.5" y="258.5" width="4" height="2" fill="#00e000" stroke="#175c17" stroke-width="1"/>
<line x1="429.5" y1="252.97" x2="429.5" y2="263.12" stroke="#5c5c5e" stroke-width="1"/>
<rect x="427.5" y="255.5" width="4" height="3" fill="#00e000" stroke="#175c17" stroke-width="1"/>
<line x1="435.5" y1="244.24" x2="435.5" y2="255.76" stroke="#5c5c5e" stroke-width="1"/>
<rect x="433.5" y="246.5" width="4" height="9" fill="#00e000" stroke="#175c17" stroke-width="1"/>
<line x1="440.5" y1="238.99" x2="440.5" y2="246.96" stroke="#5c5c5e" stroke-width="1"/>
<rect x="438.5" y="239.5" width="4" height="7" fill="#00e000" stroke="#175c17" stroke-width="1"/>
<line x1="445.5" y1="238.9" x2="445.5" y2="248.84" stroke="#5c5c5e" stroke-width="1"/>
<rect x="443.5" y="239.5" width="4" height="6" fill="#ff0000" stroke="#7a0c0c" stroke-width="1"/>
<line x1="451.5" y1="239.87" x2="451.5" y2="245.63" stroke="#5c5c5e" stroke-width="1"/>
<rect x="449.5" y="241.5" width="4" height="4" fill="#00e000" stroke="#175c17" stroke-width="1"/>
<line x1="456.5" y1="236.88" x2="456.5" y2="248.86" stroke="#5c5c5e" stroke-width="1"/>
<rect x="454.5" y="241.5" width="4" height="4" fill="#ff0000" stroke="#7a0c0c" stroke-width="1"/>
<line x1="461.5" y1="243.61" x2="461.5" y2="254.1" stroke="#5c5c5e" stroke-width="1"/>
<rect x="459.5" y="245.5" width="4" height="5" fill="#ff0000" stroke="#7a0c0c" stroke-width="1"/>
<line x1="467.5" y1="242.21" x2="467.5" y2="252.18" stroke="#5c5c5e" stroke-width="1"/>
<rect x="465.5" y="243.5" width="4" height="7" fill="#00e000" stroke="#175c17" stroke-width="1"/>
<line x1="472.5" y1="238.58" x2="472.5" y2="244.27" stroke="#5c5c5e" stroke-width="1"/>
<rect x="470" y="243" width="5" height="1" fill="#7a0c0c"/>
<line x1="477.5" y1="234.04" x2="477.5" y2="245.15" stroke="#5c5c5e" stroke-width="1"/>
<rect x="475.5" y="235.5" width="4" height="8" fill="#00e000" stroke="#175c17" stroke-width="1"/>
<line x1="482.5" y1="233.91" x2="482.5" y2="241.93" stroke="#5c5c5e" stroke-width="1"/>
<rect x="480.5" y="235.5" width="4" height="3" fill="#ff0000" stroke="#7a0c0c" stroke-width="1"/>
<line x1="488.5" y1="234.39" x2="488.5" y2="241.15" stroke="#5c5c5e" stroke-width="1"/>
<rect x="486.5" y="236.5" width="4" height="2" fill="#00e000" stroke="#175c17" stroke-width="1"/>
<line x1="493.5" y1="236.13" x2="493.5" y2="248.01" stroke="#5c5c5e" stroke-width="1"/>
<rect x="491.5" y="236.5" width="4" height="4" fill="#ff0000" stroke="#7a0c0c" stroke-width="1"/>
<line x1="498.5" y1="229.6" x2="498.5" y2="241.93" stroke="#5c5c5e" stroke-width="1"/>
<rect x="496.5" y="233.5" width="4" height="7" fill="#00e000" stroke="#175c17" stroke-width="1"/>
<line x1="504.5" y1="228.71" x2="504.5" y2="233.78" stroke="#5c5c5e" stroke-width="1"/>
<rect x="502" y="233" width="5" height="1" fill="#7a0c0c"/>
<line x1="509.5" y1="225.46" x2="509.5" y2="233.93" stroke="#5c5c5e" stroke-width="1"/>
<rect x="507.5" y="227.5" width="4" height="6" fill="#00e000" stroke="#175c17" stroke-width="1"/>
<line x1="514.5" y1="225.01" x2="514.5" y2="232.56" stroke="#5c5c5e" stroke-width="1"/>
<rect x="512" y="227" width="5" height="1" fill="#175c17"/>
<line x1="520.5" y1="222.77" x2="520.5" y2="229.98" stroke="#5c5c5e" stroke-width="1"/>
<rect x="518.5" y="225.5" width="4" height="2" fill="#00e000" stroke="#175c17" stroke-width="1"/>
<line x1="525.5" y1="221.56" x2="525.5" y2="227.87" stroke="#5c5c5e" stroke-width="1"/>
<rect x="523.5" y="222.5" width="4" height="3" fill="#00e000" stroke="#175c17" stroke-width="1"/>
<line x1="530.5" y1="220.14" x2="530.5" y2="234" stroke="#5c5c5e" stroke-width="1"/>
<rect x="528.5" y="222.5" width="4" height="7" fill="#ff0000" stroke="#7a0c0c" stroke-width="1"/>
<line x1="536.5" y1="226.17" x2="536.5" y2="238.63" stroke="#5c5c5e" stroke-width="1"/>
<rect x="534" y="229" width="5" height="1" fill="#175c17"/>
<line x1="541.5" y1="227.92" x2="541.5" y2="237.69" stroke="#5c5c5e" stroke-width="1"/>
<rect x="539.5" y="228.5" width="4" height="1" fill="#00e000" stroke="#175c17" stroke-width="1"/>
<line x1="546.5" y1="223.46" x2="546.5" y2="231.22" stroke="#5c5c5e" stroke-width="1"/>
<rect x="544.5" y="223.5" width="4" height="5" fill="#00e000" stroke="#175c17" stroke-width="1"/>
<line x1="552.5" y1="217.91" x2="552.5" y2="226.13" stroke="#5c5c5e" stroke-width="1"/>
<rect x="550.5" y="218.5" width="4" height="5" fill="#00e000" stroke="#175c17" stroke-width="1"/>
<line x1="557.5" y1="210.02" x2="557.5" y2="220.08" stroke="#5c5c5e" stroke-width="1"/>
<rect x="555.5" y="211.5" width="4" height="7" fill="#00e000" stroke="#175c17" stroke-width="1"/>
<line x1="562.5" y1="207.14" x2="562.5" y2="214.56" stroke="#5c5c5e" stroke-width="1"/>
<rect x="560.5" y="208.5" width="4" height="3" fill="#00e000" stroke="#175c17" stroke-width="1"/>
<line x1="568.5" y1="203.45" x2="568.5" y2="210.58" stroke="#5c5c5e" stroke-width="1"/>
<rect x="566.5" y="205.5" width="4" height="3" fill="#00e000" stroke="#175c17" stroke-width="1"/>
<line x1="573.5" y1="201.95" x2="573.5" y2="207.75" stroke="#5c5c5e" stroke-width="1"/>
<rect x="571.5" y="202.5" width="4" height="3" fill="#00e000" stroke="#175c17" stroke-width="1"/>
<line x1="578.5" y1="198.94" x2="578.5" y2="210.03" stroke="#5c5c5e" stroke-width="1"/>
<rect x="576.5" y="202.5" width="4" height="5" fill="#ff0000" stroke="#7a0c0c" stroke-width="1"/>
<line x1="584.5" y1="202.37" x2="584.5" y2="214.08" stroke="#5c5c5e" stroke-width="1"/>
<rect x="582.5" y="205.5" width="4" height="2" fill="#00e000" stroke="#175c17" stroke-width="1"/>
<line x1="589.5" y1="193.55" x2="589.5" y2="205.82" stroke="#5c5c5e" stroke-width="1"/>
<rect x="587.5" y="195.5" width="4" height="10" fill="#00e000" stroke="#175c17" stroke-width="1"/>
<line x1="594.5" y1="188.13" x2="594.5" y2="196.69" stroke="#5c5c5e" stroke-width="1"/>
<rect x="592.5" y="188.5" width="4" height="7" fill="#00e000" stroke="#175c17" stroke-width="1"/>
<line x1="600.5" y1="187.42" x2="600.5" y2="195.58" stroke="#5c5c5e" stroke-width="1"/>
<rect x="598.5" y="188.5" width="4" height="4" fill="#ff0000" stroke="#7a0c0c" stroke-width="1"/>
<line x1="605.5" y1="185.25" x2="605.5" y2="200.04" stroke="#5c5c5e" stroke-width="1"/>
<rect x="603.5" y="192.5" width="4" height="7" fill="#ff0000" stroke="#7a0c0c" stroke-width="1"/>
<line x1="610.5" y1="192.69" x2="610.5" y2="213.02" stroke="#5c5c5e" stroke-width="1"/>
<rect x="608.5" y="197.5" width="4" height="2" fill="#00e000" stroke="#175c17" stroke-width="1"/>
<line x1="616.5" y1="187.67" x2="616.5" y2="202.31" stroke="#5c5c5e" stroke-width="1"/>
<rect x="614.5" y="189.5" width="4" height="8" fill="#00e000" stroke="#175c17" stroke-width="1"/>
<line x1="621.5" y1="182.42" x2="621.5" y2="194.79" stroke="#5c5c5e" stroke-width="1"/>
<rect x="619.5" y="186.5" width="4" height="3" fill="#00e000" stroke="#175c17" stroke-width="1"/>
<line x1="626.5" y1="186.16" x2="626.5" y2="207.42" stroke="#5c5c5e" stroke-width="1"/>
<rect x="624.5" y="186.5" width="4" height="10" fill="#ff0000" stroke="#7a0c0c" stroke-width="1"/>
<line x1="632.5" y1="189.84" x2="632.5" y2="202.86" stroke="#5c5c5e" stroke-width="1"/>
<rect x="630.5" y="196.5" width="4" height="1" fill="#ff0000" stroke="#7a0c0c" stroke-width="1"/>
<line x1="637.5" y1="197.42" x2="637.5" y2="229.7" stroke="#5c5c5e" stroke-width="1"/>
<rect x="635.5" y="197.5" width="4" height="14" fill="#ff0000" stroke="#7a0c0c" stroke-width="1"/>
<line x1="642.5" y1="208.99" x2="642.5" y2="221.79" stroke="#5c5c5e" stroke-width="1"/>
<rect x="640.5" y="211.5" width="4" height="8" fill="#ff0000" stroke="#7a0c0c" stroke-width="1"/>
<line x1="647.5" y1="214.77" x2="647.5" y2="231.97" stroke="#5c5c5e" stroke-width="1"/>
<rect x="645.5" y="219.5" width="4" height="1" fill="#ff0000" stroke="#7a0c0c" stroke-width="1"/>
<line x1="653.5" y1="207.65" x2="653.5" y2="220.53" stroke="#5c5c5e" stroke-width="1"/>
<rect x="651.5" y="210.5" width="4" height="10" fill="#00e000" stroke="#175c17" stroke-width="1"/>
<line x1="658.5" y1="202.16" x2="658.5" y2="212.62" stroke="#5c5c5e" stroke-width="1"/>
<rect x="656.5" y="208.5" width="4" height="2" fill="#00e000" stroke="#175c17" stroke-width="1"/>
<line x1="663.5" y1="207.74" x2="663.5" y2="229.37" stroke="#5c5c5e" stroke-width="1"/>
<rect x="661.5" y="208.5" width="4" height="19" fill="#ff0000" stroke="#7a0c0c" stroke-width="1"/>
<line x1="669.5" y1="225.92" x2="669.5" y2="242.05" stroke="#5c5c5e" stroke-width="1"/>
<rect x="667.5" y="227.5" width="4" height="3" fill="#ff0000" stroke="#7a0c0c" stroke-width="1"/>
<line x1="674.5" y1="222.39" x2="674.5" y2="233.63" stroke="#5c5c5e" stroke-width="1"/>
<rect x="672.5" y="227.5" width="4" height="3" fill="#00e000" stroke="#175c17" stroke-width="1"/>
<line x1="679.5" y1="224.09" x2="679.5" y2="259.91" stroke="#5c5c5e" stroke-width="1"/>
<rect x="677.5" y="226.5" width="4" height="22" fill="#ff0000" stroke="#7a0c0c" stroke-width="1"/>
<line x1="685.5" y1="248.23" x2="685.5" y2="320.29" stroke="#5c5c5e" stroke-width="1"/>
<rect x="683.5" y="248.5" width="4" height="41" fill="#ff0000" stroke="#7a0c0c" stroke-width="1"/>
<line x1="690.5" y1="280.42" x2="690.5" y2="347.7" stroke="#5c5c5e" stroke-width="1"/>
<rect x="688.5" y="289.5" width="4" height="17" fill="#ff0000" stroke="#7a0c0c" stroke-width="1"/>
<line x1="695.5" y1="300.59" x2="695.5" y2="326.67" stroke="#5c5c5e" stroke-width="1"/>
<rect x="693.5" y="304.5" width="4" height="3" fill="#00e000" stroke="#175c17" stroke-width="1"/>
<line x1="701.5" y1="294.71" x2="701.5" y2="329.75" stroke="#5c5c5e" stroke-width="1"/>
<rect x="699.5" y="304.5" width="4" height="19" fill="#ff0000" stroke="#7a0c0c" stroke-width="1"/>
<line x1="706.5" y1="311.3" x2="706.5" y2="349.62" stroke="#5c5c5e" stroke-width="1"/>
<rect x="704.5" y="324.5" width="4" height="25" fill="#ff0000" stroke="#7a0c0c" stroke-width="1"/>
<line x1="711.5" y1="322.08" x2="711.5" y2="370.81" stroke="#5c5c5e" stroke-width="1"/>
<rect x="709.5" y="331.5" width="4" height="20" fill="#00e000" stroke="#175c17" stroke-width="1"/>
<line x1="717.5" y1="307.9" x2="717.5" y2="335.54" stroke="#5c5c5e" stroke-width="1"/>
<rect x="715.5" y="311.5" width="4" height="21" fill="#00e000" stroke="#175c17" stroke-width="1"/>
<line x1="722.5" y1="297.91" x2="722.5" y2="313.54" stroke="#5c5c5e" stroke-width="1"/>
<rect x="720.5" y="300.5" width="4" height="11" fill="#00e000" stroke="#175c17" stroke-width="1"/>
<line x1="727.5" y1="291.86" x2="727.5" y2="307.86" stroke="#5c5c5e" stroke-width="1"/>
<rect x="725.5" y="299.5" width="4" height="1" fill="#ff0000" stroke="#7a0c0c" stroke-width="1"/>
<line x1="733.5" y1="282.78" x2="733.5" y2="312.72" stroke="#5c5c5e" stroke-width="1"/>
<rect x="731.5" y="284.5" width="4" height="16" fill="#00e000" stroke="#175c17" stroke-width="1"/>
<line x1="738.5" y1="273.58" x2="738.5" y2="286.81" stroke="#5c5c5e" stroke-width="1"/>
<rect x="736.5" y="277.5" width="4" height="7" fill="#00e000" stroke="#175c17" stroke-width="1"/>
<line x1="743.5" y1="265.17" x2="743.5" y2="283.82" stroke="#5c5c5e" stroke-width="1"/>
<rect x="741.5" y="269.5" width="4" height="8" fill="#00e000" stroke="#175c17" stroke-width="1"/>
<line x1="749.5" y1="260.91" x2="749.5" y2="277.73" stroke="#5c5c5e" stroke-width="1"/>
<rect x="747.5" y="269.5" width="4" height="5" fill="#ff0000" stroke="#7a0c0c" stroke-width="1"/>
<line x1="754.5" y1="258.47" x2="754.5" y2="275.71" stroke="#5c5c5e" stroke-width="1"/>
<rect x="752.5" y="262.5" width="4" height="12" fill="#00e000" stroke="#175c17" stroke-width="1"/>
<line x1="759.5" y1="255.22" x2="759.5" y2="264.01" stroke="#5c5c5e" stroke-width="1"/>
<rect x="757.5" y="258.5" width="4" height="3" fill="#00e000" stroke="#175c17" stroke-width="1"/>
<line x1="765.5" y1="251.36" x2="765.5" y2="266.91" stroke="#5c5c5e" stroke-width="1"/>
<rect x="763.5" y="258.5" width="4" height="8" fill="#ff0000" stroke="#7a0c0c" stroke-width="1"/>
<line x1="770.5" y1="258.72" x2="770.5" y2="272.52" stroke="#5c5c5e" stroke-width="1"/>
<rect x="768.5" y="260.5" width="4" height="6" fill="#00e000" stroke="#175c17" stroke-width="1"/>
<line x1="775.5" y1="245.68" x2="775.5" y2="260.29" stroke="#5c5c5e" stroke-width="1"/>
<rect x="773.5" y="247.5" width="4" height="13" fill="#00e000" stroke="#175c17" stroke-width="1"/>
<line x1="781.5" y1="238.54" x2="781.5" y2="247.78" stroke="#5c5c5e" stroke-width="1"/>
<rect x="779.5" y="244.5" width="4" height="3" fill="#00e000" stroke="#175c17" stroke-width="1"/>
<line x1="786.5" y1="241.19" x2="786.5" y2="273.3" stroke="#5c5c5e" stroke-width="1"/>
<rect x="784.5" y="244.5" width="4" height="19" fill="#ff0000" stroke="#7a0c0c" stroke-width="1"/>
<line x1="791.5" y1="255.05" x2="791.5" y2="275.94" stroke="#5c5c5e" stroke-width="1"/>
<rect x="789.5" y="263.5" width="4" height="12" fill="#ff0000" stroke="#7a0c0c" stroke-width="1"/>
<line x1="796.5" y1="257.05" x2="796.5" y2="279.68" stroke="#5c5c5e" stroke-width="1"/>
<rect x="794.5" y="260.5" width="4" height="15" fill="#00e000" stroke="#175c17" stroke-width="1"/>
<line x1="802.5" y1="255.44" x2="802.5" y2="273.53" stroke="#5c5c5e" stroke-width="1"/>
<rect x="800.5" y="259.5" width="4" height="12" fill="#ff0000" stroke="#7a0c0c" stroke-width="1"/>
<line x1="807.5" y1="250.09" x2="807.5" y2="271.51" stroke="#5c5c5e" stroke-width="1"/>
<rect x="805.5" y="253.5" width="4" height="18" fill="#00e000" stroke="#175c17" stroke-width="1"/>
<line x1="812.5" y1="242.83" x2="812.5" y2="254.93" stroke="#5c5c5e" stroke-width="1"/>
<rect x="810.5" y="245.5" width="4" height="8" fill="#00e000" stroke="#175c17" stroke-width="1"/>
<line x1="818.5" y1="237.24" x2="818.5" y2="247.11" stroke="#5c5c5e" stroke-width="1"/>
<rect x="816" y="245" width="5" height="1" fill="#7a0c0c"/>
<line x1="823.5" y1="230.99" x2="823.5" y2="244.59" stroke="#5c5c5e" stroke-width="1"/>
<rect x="821.5" y="231.5" width="4" height="13" fill="#00e000" stroke="#175c17" stroke-width="1"/>
<line x1="828.5" y1="224.15" x2="828.5" y2="231.86" stroke="#5c5c5e" stroke-width="1"/>
<rect x="826.5" y="226.5" width="4" height="5" fill="#00e000" stroke="#175c17" stroke-width="1"/>
<line x1="834.5" y1="217.39" x2="834.5" y2="217.96" stroke="#5c5c5e" stroke-width="1"/>
<rect x="832" y="217" width="5" height="1" fill="#175c17"/>
<line x1="839.5" y1="219.23" x2="839.5" y2="233.35" stroke="#5c5c5e" stroke-width="1"/>
<rect x="837.5" y="219.5" width="4" height="1" fill="#ff0000" stroke="#7a0c0c" stroke-width="1"/>
<line x1="844.5" y1="213.98" x2="844.5" y2="225.49" stroke="#5c5c5e" stroke-width="1"/>
<rect x="842.5" y="214.5" width="4" height="5" fill="#00e000" stroke="#175c17" stroke-width="1"/>
<line x1="850.5" y1="213.02" x2="850.5" y2="222.62" stroke="#5c5c5e" stroke-width="1"/>
<rect x="848.5" y="214.5" width="4" height="3" fill="#ff0000" stroke="#7a0c0c" stroke-width="1"/>
<line x1="855.5" y1="217.11" x2="855.5" y2="231.78" stroke="#5c5c5e" stroke-width="1"/>
<rect x="853.5" y="217.5" width="4" height="4" fill="#ff0000" stroke="#7a0c0c" stroke-width="1"/>
<line x1="860.5" y1="215.28" x2="860.5" y2="227.5" stroke="#5c5c5e" stroke-width="1"/>
<rect x="858.5" y="221.5" width="4" height="4" fill="#ff0000" stroke="#7a0c0c" stroke-width="1"/>
<line x1="866.5" y1="223.36" x2="866.5" y2="260.88" stroke="#5c5c5e" stroke-width="1"/>
<rect x="864.5" y="225.5" width="4" height="13" fill="#ff0000" stroke="#7a0c0c" stroke-width="1"/>
<line x1="871.5" y1="236.85" x2="871.5" y2="258.37" stroke="#5c5c5e" stroke-width="1"/>
<rect x="869.5" y="238.5" width="4" height="17" fill="#ff0000" stroke="#7a0c0c" stroke-width="1"/>
<line x1="876.5" y1="225.84" x2="876.5" y2="266.26" stroke="#5c5c5e" stroke-width="1"/>
<rect x="874.5" y="232.5" width="4" height="23" fill="#00e000" stroke="#175c17" stroke-width="1"/>
<line x1="882.5" y1="228.41" x2="882.5" y2="249.8" stroke="#5c5c5e" stroke-width="1"/>
<rect x="880.5" y="232.5" width="4" height="1" fill="#ff0000" stroke="#7a0c0c" stroke-width="1"/>
<line x1="887.5" y1="229.82" x2="887.5" y2="241.69" stroke="#5c5c5e" stroke-width="1"/>
<rect x="885.5" y="231.5" width="4" height="2" fill="#00e000" stroke="#175c17" stroke-width="1"/>
<line x1="892.5" y1="219.03" x2="892.5" y2="231.86" stroke="#5c5c5e" stroke-width="1"/>
<rect x="890.5" y="222.5" width="4" height="9" fill="#00e000" stroke="#175c17" stroke-width="1"/>
<line x1="898.5" y1="211.83" x2="898.5" y2="222.52" stroke="#5c5c5e" stroke-width="1"/>
<rect x="896.5" y="213.5" width="4" height="9" fill="#00e000" stroke="#175c17" stroke-width="1"/>
<line x1="903.5" y1="205.39" x2="903.5" y2="217.96" stroke="#5c5c5e" stroke-width="1"/>
<rect x="901.5" y="207.5" width="4" height="6" fill="#00e000" stroke="#175c17" stroke-width="1"/>
<line x1="908.5" y1="204.89" x2="908.5" y2="215.14" stroke="#5c5c5e" stroke-width="1"/>
<rect x="906.5" y="207.5" width="4" height="1" fill="#ff0000" stroke="#7a0c0c" stroke-width="1"/>
<line x1="914.5" y1="205.98" x2="914.5" y2="225.95" stroke="#5c5c5e" stroke-width="1"/>
<rect x="912.5" y="208.5" width="4" height="14" fill="#ff0000" stroke="#7a0c0c" stroke-width="1"/>
<line x1="919.5" y1="214.16" x2="919.5" y2="230.27" stroke="#5c5c5e" stroke-width="1"/>
<rect x="917.5" y="214.5" width="4" height="8" fill="#00e000" stroke="#175c17" stroke-width="1"/>
<line x1="924.5" y1="209.66" x2="924.5" y2="220.36" stroke="#5c5c5e" stroke-width="1"/>
<rect x="922.5" y="211.5" width="4" height="3" fill="#00e000" stroke="#175c17" stroke-width="1"/>
<line x1="930.5" y1="204.23" x2="930.5" y2="215.58" stroke="#5c5c5e" stroke-width="1"/>
<rect x="928.5" y="207.5" width="4" height="4" fill="#00e000" stroke="#175c17" stroke-width="1"/>
<line x1="935.5" y1="197.01" x2="935.5" y2="208.91" stroke="#5c5c5e" stroke-width="1"/>
<rect x="933.5" y="202.5" width="4" height="5" fill="#00e000" stroke="#175c17" stroke-width="1"/>
<line x1="940.5" y1="197.54" x2="940.5" y2="207.86" stroke="#5c5c5e" stroke-width="1"/>
<rect x="938.5" y="202.5" width="4" height="4" fill="#ff0000" stroke="#7a0c0c" stroke-width="1"/>
<line x1="946.5" y1="203.07" x2="946.5" y2="217.41" stroke="#5c5c5e" stroke-width="1"/>
<rect x="944.5" y="205.5" width="4" height="1" fill="#00e000" stroke="#175c17" stroke-width="1"/>
<line x1="951.5" y1="200.98" x2="951.5" y2="208.66" stroke="#5c5c5e" stroke-width="1"/>
<rect x="949.5" y="204.5" width="4" height="1" fill="#00e000" stroke="#175c17" stroke-width="1"/>
<line x1="956.5" y1="191.81" x2="956.5" y2="204.31" stroke="#5c5c5e" stroke-width="1"/>
<rect x="954.5" y="193.5" width="4" height="11" fill="#00e000" stroke="#175c17" stroke-width="1"/>
<line x1="961.5" y1="188.79" x2="961.5" y2="195.46" stroke="#5c5c5e" stroke-width="1"/>
<rect x="959.5" y="191.5" width="4" height="2" fill="#00e000" stroke="#175c17" stroke-width="1"/>
<line x1="967.5" y1="183.23" x2="967.5" y2="193.04" stroke="#5c5c5e" stroke-width="1"/>
<rect x="965.5" y="183.5" width="4" height="8" fill="#00e000" stroke="#175c17" stroke-width="1"/>
<line x1="972.5" y1="179.46" x2="972.5" y2="188.06" stroke="#5c5c5e" stroke-width="1"/>
<rect x="970.5" y="179.5" width="4" height="4" fill="#00e000" stroke="#175c17" stroke-width="1"/>
<line x1="977.5" y1="167.51" x2="977.5" y2="181.7" stroke="#5c5c5e" stroke-width="1"/>
<rect x="975.5" y="174.5" width="4" height="5" fill="#00e000" stroke="#175c17" stroke-width="1"/>
<line x1="983.5" y1="171.83" x2="983.5" y2="184.62" stroke="#5c5c5e" stroke-width="1"/>
<rect x="981.5" y="174.5" width="4" height="4" fill="#ff0000" stroke="#7a0c0c" stroke-width="1"/>
<line x1="988.5" y1="166" x2="988.5" y2="178.5" stroke="#5c5c5e" stroke-width="1"/>
<rect x="986.5" y="167.5" width="4" height="11" fill="#00e000" stroke="#175c17" stroke-width="1"/>
<line x1="993.5" y1="164.61" x2="993.5" y2="175.4" stroke="#5c5c5e" stroke-width="1"/>
<rect x="991.5" y="167.5" width="4" height="7" fill="#ff0000" stroke="#7a0c0c" stroke-width="1"/>
<line x1="999.5" y1="162.03" x2="999.5" y2="174.66" stroke="#5c5c5e" stroke-width="1"/>
<rect x="997.5" y="168.5" width="4" height="6" fill="#00e000" stroke="#175c17" stroke-width="1"/>
<line x1="1004.5" y1="156.37" x2="1004.5" y2="172.85" stroke="#5c5c5e" stroke-width="1"/>
<rect x="1002.5" y="158.5" width="4" height="10" fill="#00e000" stroke="#175c17" stroke-width="1"/>
<line x1="1009.5" y1="151.69" x2="1009.5" y2="159.98" stroke="#5c5c5e" stroke-width="1"/>
<rect x="1007.5" y="152.5" width="4" height="6" fill="#00e000" stroke="#175c17" stroke-width="1"/>
<line x1="1015.5" y1="147.4" x2="1015.5" y2="157.26" stroke="#5c5c5e" stroke-width="1"/>
<rect x="1013.5" y="147.5" width="4" height="5" fill="#00e000" stroke="#175c17" stroke-width="1"/>
<line x1="1020.5" y1="147.23" x2="1020.5" y2="156.95" stroke="#5c5c5e" stroke-width="1"/>
<rect x="1018.5" y="147.5" width="4" height="8" fill="#ff0000" stroke="#7a0c0c" stroke-width="1"/>
<line x1="1025.5" y1="145.22" x2="1025.5" y2="161.02" stroke="#5c5c5e" stroke-width="1"/>
<rect x="1023.5" y="146.5" width="4" height="9" fill="#00e000" stroke="#175c17" stroke-width="1"/>
<line x1="1031.5" y1="143.34" x2="1031.5" y2="149.18" stroke="#5c5c5e" stroke-width="1"/>
<rect x="1029.5" y="144.5" width="4" height="2" fill="#00e000" stroke="#175c17" stroke-width="1"/>
<line x1="1036.5" y1="141.8" x2="1036.5" y2="151.59" stroke="#5c5c5e" stroke-width="1"/>
<rect x="1034.5" y="143.5" width="4" height="1" fill="#00e000" stroke="#175c17" stroke-width="1"/>
<line x1="1041.5" y1="138.74" x2="1041.5" y2="146.17" stroke="#5c5c5e" stroke-width="1"/>
<rect x="1039.5" y="138.5" width="4" height="5" fill="#00e000" stroke="#175c17" stroke-width="1"/>
<line x1="1047.5" y1="133.77" x2="1047.5" y2="139.65" stroke="#5c5c5e" stroke-width="1"/>
<rect x="1045.5" y="134.5" width="4" height="4" fill="#00e000" stroke="#175c17" stroke-width="1"/>
<line x1="1052.5" y1="131.2" x2="1052.5" y2="137.98" stroke="#5c5c5e" stroke-width="1"/>
<rect x="1050.5" y="134.5" width="4" height="3" fill="#ff0000" stroke="#7a0c0c" stroke-width="1"/>
<line x1="1057.5" y1="129.7" x2="1057.5" y2="140.94" stroke="#5c5c5e" stroke-width="1"/>
<rect x="1055.5" y="129.5" width="4" height="8" fill="#00e000" stroke="#175c17" stroke-width="1"/>
<line x1="1063.5" y1="128.16" x2="1063.5" y2="134.23" stroke="#5c5c5e" stroke-width="1"/>
<rect x="1061.5" y="129.5" width="4" height="4" fill="#ff0000" stroke="#7a0c0c" stroke-width="1"/>
<line x1="1068.5" y1="128.27" x2="1068.5" y2="150.83" stroke="#5c5c5e" stroke-width="1"/>
<rect x="1066.5" y="128.5" width="4" height="5" fill="#00e000" stroke="#175c17" stroke-width="1"/>
<line x1="1073.5" y1="122.11" x2="1073.5" y2="130.15" stroke="#5c5c5e" stroke-width="1"/>
<rect x="1071.5" y="122.5" width="4" height="6" fill="#00e000" stroke="#175c17" stroke-width="1"/>
<line x1="1079.5" y1="120.24" x2="1079.5" y2="133.28" stroke="#5c5c5e" stroke-width="1"/>
<rect x="1077.5" y="122.5" width="4" height="1" fill="#ff0000" stroke="#7a0c0c" stroke-width="1"/>
<line x1="1084.5" y1="122.47" x2="1084.5" y2="131.56" stroke="#5c5c5e" stroke-width="1"/>
<rect x="1082.5" y="123.5" width="4" height="7" fill="#ff0000" stroke="#7a0c0c" stroke-width="1"/>
<line x1="1089.5" y1="117.54" x2="1089.5" y2="132.36" stroke="#5c5c5e" stroke-width="1"/>
<rect x="1087.5" y="119.5" width="4" height="11" fill="#00e000" stroke="#175c17" stroke-width="1"/>
<line x1="1095.5" y1="117.75" x2="1095.5" y2="125.95" stroke="#5c5c5e" stroke-width="1"/>
<rect x="1093.5" y="119.5" width="4" height="3" fill="#ff0000" stroke="#7a0c0c" stroke-width="1"/>
<line x1="1100.5" y1="116.88" x2="1100.5" y2="125.02" stroke="#5c5c5e" stroke-width="1"/>
<rect x="1098.5" y="121.5" width="4" height="1" fill="#00e000" stroke="#175c17" stroke-width="1"/>
<line x1="1105.5" y1="115.98" x2="1105.5" y2="122.94" stroke="#5c5c5e" stroke-width="1"/>
<rect x="1103.5" y="118.5" width="4" height="3" fill="#00e000" stroke="#175c17" stroke-width="1"/>
<line x1="1110.5" y1="116.48" x2="1110.5" y2="124.17" stroke="#5c5c5e" stroke-width="1"/>
<rect x="1108.5" y="118.5" width="4" height="5" fill="#ff0000" stroke="#7a0c0c" stroke-width="1"/>
<line x1="1116.5" y1="116.17" x2="1116.5" y2="125.49" stroke="#5c5c5e" stroke-width="1"/>
<rect x="1114.5" y="119.5" width="4" height="4" fill="#00e000" stroke="#175c17" stroke-width="1"/>
<line x1="1121.5" y1="118.25" x2="1121.5" y2="145.33" stroke="#5c5c5e" stroke-width="1"/>
<rect x="1119.5" y="119.5" width="4" height="14" fill="#ff0000" stroke="#7a0c0c" stroke-width="1"/>
<line x1="1126.5" y1="127.98" x2="1126.5" y2="144.75" stroke="#5c5c5e" stroke-width="1"/>
<rect x="1124.5" y="133.5" width="4" height="6" fill="#ff0000" stroke="#7a0c0c" stroke-width="1"/>
<line x1="1132.5" y1="120.16" x2="1132.5" y2="142.22" stroke="#5c5c5e" stroke-width="1"/>
<rect x="1130.5" y="121.5" width="4" height="18" fill="#00e000" stroke="#175c17" stroke-width="1"/>
<line x1="1137.5" y1="117.86" x2="1137.5" y2="128.14" stroke="#5c5c5e" stroke-width="1"/>
<rect x="1135" y="121" width="5" height="1" fill="#175c17"/>
<line x1="1142.5" y1="119.13" x2="1142.5" y2="131" stroke="#5c5c5e" stroke-width="1"/>
<rect x="1140.5" y="121.5" width="4" height="4" fill="#ff0000" stroke="#7a0c0c" stroke-width="1"/>
<line x1="1148.5" y1="126.11" x2="1148.5" y2="151.84" stroke="#5c5c5e" stroke-width="1"/>
<rect x="1146.5" y="126.5" width="4" height="10" fill="#ff0000" stroke="#7a0c0c" stroke-width="1"/>
<line x1="1153.5" y1="134.35" x2="1153.5" y2="152.1" stroke="#5c5c5e" stroke-width="1"/>
<rect x="1151" y="137" width="5" height="1" fill="#7a0c0c"/>
<line x1="1158.5" y1="122.49" x2="1158.5" y2="137.26" stroke="#5c5c5e" stroke-width="1"/>
<rect x="1156.5" y="123.5" width="4" height="14" fill="#00e000" stroke="#175c17" stroke-width="1"/>
<line x1="1164.5" y1="118.42" x2="1164.5" y2="126.59" stroke="#5c5c5e" stroke-width="1"/>
<rect x="1162" y="123" width="5" height="1" fill="#175c17"/>
<line x1="1169.5" y1="119.21" x2="1169.5" y2="127.44" stroke="#5c5c5e" stroke-width="1"/>
<rect x="1167.5" y="119.5" width="4" height="4" fill="#00e000" stroke="#175c17" stroke-width="1"/>
<line x1="1174.5" y1="117.44" x2="1174.5" y2="131.17" stroke="#5c5c5e" stroke-width="1"/>
<rect x="1172" y="119" width="5" height="1" fill="#175c17"/>
<line x1="1180.5" y1="111.68" x2="1180.5" y2="122.3" stroke="#5c5c5e" stroke-width="1"/>
<rect x="1178.5" y="112.5" width="4" height="7" fill="#00e000" stroke="#175c17" stroke-width="1"/>
<line x1="1185.5" y1="110" x2="1185.5" y2="114.66" stroke="#5c5c5e" stroke-width="1"/>
<rect x="1183" y="112" width="5" height="1" fill="#7a0c0c"/>
<line x1="1190.5" y1="110.59" x2="1190.5" y2="117.59" stroke="#5c5c5e" stroke-width="1"/>
<rect x="1188" y="112" width="5" height="1" fill="#7a0c0c"/>
<line x1="1196.5" y1="112.43" x2="1196.5" y2="118.04" stroke="#5c5c5e" stroke-width="1"/>
<rect x="1194.5" y="112.5" width="4" height="4" fill="#ff0000" stroke="#7a0c0c" stroke-width="1"/>
<line x1="1201.5" y1="107.98" x2="1201.5" y2="121.27" stroke="#5c5c5e" stroke-width="1"/>
<rect x="1199.5" y="109.5" width="4" height="7" fill="#00e000" stroke="#175c17" stroke-width="1"/>
<line x1="1206.5" y1="101.8" x2="1206.5" y2="110.64" stroke="#5c5c5e" stroke-width="1"/>
<rect x="1204.5" y="105.5" width="4" height="4" fill="#00e000" stroke="#175c17" stroke-width="1"/>
<line x1="1212.5" y1="99.55" x2="1212.5" y2="104.94" stroke="#5c5c5e" stroke-width="1"/>
<rect x="1210.5" y="101.5" width="4" height="3" fill="#00e000" stroke="#175c17" stroke-width="1"/>
<line x1="1217.5" y1="92.94" x2="1217.5" y2="102.36" stroke="#5c5c5e" stroke-width="1"/>
<rect x="1215.5" y="93.5" width="4" height="8" fill="#00e000" stroke="#175c17" stroke-width="1"/>
<line x1="1222.5" y1="90.24" x2="1222.5" y2="97.54" stroke="#5c5c5e" stroke-width="1"/>
<rect x="1220.5" y="92.5" width="4" height="1" fill="#ff0000" stroke="#7a0c0c" stroke-width="1"/>
<line x1="1228.5" y1="90.5" x2="1228.5" y2="96.91" stroke="#5c5c5e" stroke-width="1"/>
<rect x="1226.5" y="91.5" width="4" height="2" fill="#00e000" stroke="#175c17" stroke-width="1"/>
<line x1="1233.5" y1="88.63" x2="1233.5" y2="94.68" stroke="#5c5c5e" stroke-width="1"/>
<rect x="1231.5" y="89.5" width="4" height="2" fill="#00e000" stroke="#175c17" stroke-width="1"/>
<line x1="1238.5" y1="85.47" x2="1238.5" y2="89.81" stroke="#5c5c5e" stroke-width="1"/>
<rect x="1236" y="88" width="5" height="1" fill="#175c17"/>
<line x1="1244.5" y1="82.79" x2="1244.5" y2="89.63" stroke="#5c5c5e" stroke-width="1"/>
<rect x="1242.5" y="84.5" width="4" height="3" fill="#00e000" stroke="#175c17" stroke-width="1"/>
<line x1="1249.5" y1="82.19" x2="1249.5" y2="88.75" stroke="#5c5c5e" stroke-width="1"/>
<rect x="1247" y="83" width="5" height="1" fill="#7a0c0c"/>
<line x1="1254.5" y1="79.69" x2="1254.5" y2="86.12" stroke="#5c5c5e" stroke-width="1"/>
<rect x="1252.5" y="79.5" width="4" height="4" fill="#00e000" stroke="#175c17" stroke-width="1"/>
<line x1="1260.5" y1="74.24" x2="1260.5" y2="79.7" stroke="#5c5c5e" stroke-width="1"/>
<rect x="1258.5" y="74.5" width="4" height="5" fill="#00e000" stroke="#175c17" stroke-width="1"/>
<line x1="1265.5" y1="67.99" x2="1265.5" y2="76.41" stroke="#5c5c5e" stroke-width="1"/>
<rect x="1263.5" y="68.5" width="4" height="6" fill="#00e000" stroke="#175c17" stroke-width="1"/>
<line x1="1270.5" y1="64.94" x2="1270.5" y2="72.33" stroke="#5c5c5e" stroke-width="1"/>
<rect x="1268.5" y="66.5" width="4" height="2" fill="#00e000" stroke="#175c17" stroke-width="1"/>
<line x1="1275.5" y1="50.94" x2="1275.5" y2="65.97" stroke="#5c5c5e" stroke-width="1"/>
<rect x="1273.5" y="54.5" width="4" height="11" fill="#00e000" stroke="#175c17" stroke-width="1"/>
<line x1="1281.5" y1="53.77" x2="1281.5" y2="78.54" stroke="#5c5c5e" stroke-width="1"/>
<rect x="1279.5" y="55.5" width="4" height="8" fill="#ff0000" stroke="#7a0c0c" stroke-width="1"/>
<line x1="1286.5" y1="56.42" x2="1286.5" y2="73.99" stroke="#5c5c5e" stroke-width="1"/>
<rect x="1284.5" y="63.5" width="4" height="6" fill="#ff0000" stroke="#7a0c0c" stroke-width="1"/>
<line x1="1291.5" y1="63.12" x2="1291.5" y2="76.72" stroke="#5c5c5e" stroke-width="1"/>
<rect x="1289.5" y="68.5" width="4" height="1" fill="#00e000" stroke="#175c17" stroke-width="1"/>
<line x1="1297.5" y1="61.13" x2="1297.5" y2="73.25" stroke="#5c5c5e" stroke-width="1"/>
<rect x="1295.5" y="64.5" width="4" height="5" fill="#00e000" stroke="#175c17" stroke-width="1"/>
<line x1="1302.5" y1="57.24" x2="1302.5" y2="65.18" stroke="#5c5c5e" stroke-width="1"/>
<rect x="1300" y="63" width="5" height="1" fill="#7a0c0c"/>
<line x1="1307.5" y1="52.84" x2="1307.5" y2="64.62" stroke="#5c5c5e" stroke-width="1"/>
<rect x="1305.5" y="55.5" width="4" height="9" fill="#00e000" stroke="#175c17" stroke-width="1"/>
<line x1="1313.5" y1="47.64" x2="1313.5" y2="56.85" stroke="#5c5c5e" stroke-width="1"/>
<rect x="1311.5" y="48.5" width="4" height="6" fill="#00e000" stroke="#175c17" stroke-width="1"/>
<line x1="1318.5" y1="45.82" x2="1318.5" y2="51.61" stroke="#5c5c5e" stroke-width="1"/>
<rect x="1316.5" y="47.5" width="4" height="2" fill="#00e000" stroke="#175c17" stroke-width="1"/>
<line x1="1323.5" y1="45.89" x2="1323.5" y2="72.5" stroke="#5c5c5e" stroke-width="1"/>
<rect x="1321.5" y="46.5" width="4" height="17" fill="#ff0000" stroke="#7a0c0c" stroke-width="1"/>
<line x1="1329.5" y1="55.39" x2="1329.5" y2="70.19" stroke="#5c5c5e" stroke-width="1"/>
<rect x="1327.5" y="59.5" width="4" height="4" fill="#00e000" stroke="#175c17" stroke-width="1"/>
<line x1="1334.5" y1="56.55" x2="1334.5" y2="95.26" stroke="#5c5c5e" stroke-width="1"/>
<rect x="1332.5" y="57.5" width="4" height="23" fill="#ff0000" stroke="#7a0c0c" stroke-width="1"/>
<line x1="1339.5" y1="63.81" x2="1339.5" y2="86.35" stroke="#5c5c5e" stroke-width="1"/>
<rect x="1337.5" y="64.5" width="4" height="19" fill="#00e000" stroke="#175c17" stroke-width="1"/>
<line x1="1345.5" y1="55.52" x2="1345.5" y2="66.01" stroke="#5c5c5e" stroke-width="1"/>
<rect x="1343.5" y="57.5" width="4" height="7" fill="#00e000" stroke="#175c17" stroke-width="1"/>
<line x1="1350.5" y1="51.9" x2="1350.5" y2="62.73" stroke="#5c5c5e" stroke-width="1"/>
<rect x="1348.5" y="53.5" width="4" height="3" fill="#00e000" stroke="#175c17" stroke-width="1"/>
<line x1="1355.5" y1="45.18" x2="1355.5" y2="52.8" stroke="#5c5c5e" stroke-width="1"/>
<rect x="1353.5" y="45.5" width="4" height="7" fill="#00e000" stroke="#175c17" stroke-width="1"/>
<line x1="1361.5" y1="44.83" x2="1361.5" y2="60.47" stroke="#5c5c5e" stroke-width="1"/>
<rect x="1359.5" y="44.5" width="4" height="16" fill="#ff0000" stroke="#7a0c0c" stroke-width="1"/>
<line x1="1366.5" y1="44.09" x2="1366.5" y2="62.21" stroke="#5c5c5e" stroke-width="1"/>
<rect x="1364.5" y="45.5" width="4" height="15" fill="#00e000" stroke="#175c17" stroke-width="1"/>
<line x1="1371.5" y1="39.43" x2="1371.5" y2="44.98" stroke="#5c5c5e" stroke-width="1"/>
<rect x="1369.5" y="42.5" width="4" height="1" fill="#00e000" stroke="#175c17" stroke-width="1"/>
<line x1="1377.5" y1="40.45" x2="1377.5" y2="54.87" stroke="#5c5c5e" stroke-width="1"/>
<rect x="1375.5" y="42.5" width="4" height="10" fill="#ff0000" stroke="#7a0c0c" stroke-width="1"/>
<circle cx="1362" cy="27.4" r="7.4" fill="#2196f3"/>
<text x="1362" y="31.4" text-anchor="middle" font-family="Liberation Sans, sans-serif" font-weight="700" font-size="11" fill="#fff">P</text>
<line x1="1" y1="394.85" x2="1524.8" y2="394.85" stroke="#a4a4a4" stroke-width="1.7"/>
<line x1="1524.4" y1="0" x2="1524.4" y2="391" stroke="#555" stroke-width="1.1"/>
<line x1="63.6" y1="395.6" x2="63.6" y2="398.6" stroke="#555" stroke-width="1"/>
<text x="63.6" y="410" text-anchor="middle" font-family="Liberation Sans, sans-serif" font-weight="700" font-size="11" fill="#555">1999</text>
<line x1="191.29" y1="395.6" x2="191.29" y2="398.6" stroke="#555" stroke-width="1"/>
<text x="191.29" y="410" text-anchor="middle" font-family="Liberation Sans, sans-serif" font-weight="700" font-size="11" fill="#555">2001</text>
<line x1="318.98" y1="395.6" x2="318.98" y2="398.6" stroke="#555" stroke-width="1"/>
<text x="318.98" y="410" text-anchor="middle" font-family="Liberation Sans, sans-serif" font-weight="700" font-size="11" fill="#555">2003</text>
<line x1="446.68" y1="395.6" x2="446.68" y2="398.6" stroke="#555" stroke-width="1"/>
<text x="446.68" y="410" text-anchor="middle" font-family="Liberation Sans, sans-serif" font-weight="700" font-size="11" fill="#555">2005</text>
<line x1="574.37" y1="395.6" x2="574.37" y2="398.6" stroke="#555" stroke-width="1"/>
<text x="574.37" y="410" text-anchor="middle" font-family="Liberation Sans, sans-serif" font-weight="700" font-size="11" fill="#555">2007</text>
<line x1="702.06" y1="395.6" x2="702.06" y2="398.6" stroke="#555" stroke-width="1"/>
<text x="702.06" y="410" text-anchor="middle" font-family="Liberation Sans, sans-serif" font-weight="700" font-size="11" fill="#555">2009</text>
<line x1="829.75" y1="395.6" x2="829.75" y2="398.6" stroke="#555" stroke-width="1"/>
<text x="829.75" y="410" text-anchor="middle" font-family="Liberation Sans, sans-serif" font-weight="700" font-size="11" fill="#555">2011</text>
<line x1="957.44" y1="395.6" x2="957.44" y2="398.6" stroke="#555" stroke-width="1"/>
<text x="957.44" y="410" text-anchor="middle" font-family="Liberation Sans, sans-serif" font-weight="700" font-size="11" fill="#555">2013</text>
<line x1="1085.14" y1="395.6" x2="1085.14" y2="398.6" stroke="#555" stroke-width="1"/>
<text x="1085.14" y="410" text-anchor="middle" font-family="Liberation Sans, sans-serif" font-weight="700" font-size="11" fill="#555">2015</text>
<line x1="1212.83" y1="395.6" x2="1212.83" y2="398.6" stroke="#555" stroke-width="1"/>
<text x="1212.83" y="410" text-anchor="middle" font-family="Liberation Sans, sans-serif" font-weight="700" font-size="11" fill="#555">2017</text>
<line x1="1340.52" y1="395.6" x2="1340.52" y2="398.6" stroke="#555" stroke-width="1"/>
<text x="1340.52" y="410" text-anchor="middle" font-family="Liberation Sans, sans-serif" font-weight="700" font-size="11" fill="#555">2019</text>
<line x1="1468.21" y1="395.6" x2="1468.21" y2="398.6" stroke="#555" stroke-width="1"/>
<text x="1468.21" y="410" text-anchor="middle" font-family="Liberation Sans, sans-serif" font-weight="700" font-size="11" fill="#555">2021</text>
<line x1="1524" y1="7.5" x2="1528" y2="7.5" stroke="#555" stroke-width="1"/>
<text x="1531.3" y="11.9" font-family="Liberation Sans, sans-serif" font-size="11" fill="#555">3500.00</text>
<line x1="1524" y1="42.5" x2="1528" y2="42.5" stroke="#555" stroke-width="1"/>
<text x="1531.3" y="46.9" font-family="Liberation Sans, sans-serif" font-size="11" fill="#555">3000.00</text>
<line x1="1524" y1="109.5" x2="1528" y2="109.5" stroke="#555" stroke-width="1"/>
<text x="1531.3" y="113.9" font-family="Liberation Sans, sans-serif" font-size="11" fill="#555">2200.00</text>
<line x1="1524" y1="153.5" x2="1528" y2="153.5" stroke="#555" stroke-width="1"/>
<text x="1531.3" y="157.9" font-family="Liberation Sans, sans-serif" font-size="11" fill="#555">1800.00</text>
<line x1="1524" y1="193.5" x2="1528" y2="193.5" stroke="#555" stroke-width="1"/>
<text x="1531.3" y="197.9" font-family="Liberation Sans, sans-serif" font-size="11" fill="#555">1500.00</text>
<line x1="1524" y1="224.5" x2="1528" y2="224.5" stroke="#555" stroke-width="1"/>
<text x="1531.3" y="228.9" font-family="Liberation Sans, sans-serif" font-size="11" fill="#555">1300.00</text>
<line x1="1524" y1="261.5" x2="1528" y2="261.5" stroke="#555" stroke-width="1"/>
<text x="1531.3" y="265.9" font-family="Liberation Sans, sans-serif" font-size="11" fill="#555">1100.00</text>
<line x1="1524" y1="295.5" x2="1528" y2="295.5" stroke="#555" stroke-width="1"/>
<text x="1531.3" y="299.9" font-family="Liberation Sans, sans-serif" font-size="11" fill="#555">940.00</text>
<line x1="1524" y1="327.5" x2="1528" y2="327.5" stroke="#555" stroke-width="1"/>
<text x="1531.3" y="331.9" font-family="Liberation Sans, sans-serif" font-size="11" fill="#555">815.00</text>
<line x1="1524" y1="355.5" x2="1528" y2="355.5" stroke="#555" stroke-width="1"/>
<text x="1531.3" y="359.9" font-family="Liberation Sans, sans-serif" font-size="11" fill="#555">715.00</text>
<line x1="1524" y1="385.5" x2="1528" y2="385.5" stroke="#555" stroke-width="1"/>
<text x="1531.3" y="389.9" font-family="Liberation Sans, sans-serif" font-size="11" fill="#555">625.00</text>
<rect x="1523.9" y="43.9" width="51.6" height="16.1" fill="#0000ff"/>
<line x1="1524" y1="51.45" x2="1527.3" y2="51.45" stroke="#fff" stroke-opacity="0.65" stroke-width="1"/>
<text x="1531.2" y="55.95" font-family="Liberation Sans, sans-serif" font-weight="700" font-size="11.3" fill="#fff">2865.75</text>
<rect x="1523.9" y="60" width="50.1" height="16" fill="#ff0000"/>
<line x1="1524" y1="67.5" x2="1527.3" y2="67.5" stroke="#fff" stroke-opacity="0.65" stroke-width="1"/>
<text x="1531.2" y="72" font-family="Liberation Sans, sans-serif" font-weight="700" font-size="11.3" fill="#fff">2847.11</text>
<rect x="1523.9" y="76" width="51.6" height="16" fill="#0000ff"/>
<line x1="1524" y1="83.5" x2="1527.3" y2="83.5" stroke="#fff" stroke-opacity="0.65" stroke-width="1"/>
<text x="1531.2" y="88" font-family="Liberation Sans, sans-serif" font-weight="700" font-size="11.3" fill="#fff">2810.78</text>
<rect x="1523.9" y="92" width="51.6" height="16.2" fill="#cc0000"/>
<line x1="1524" y1="99.6" x2="1527.3" y2="99.6" stroke="#fff" stroke-opacity="0.65" stroke-width="1"/>
<text x="1531.2" y="104.1" font-family="Liberation Sans, sans-serif" font-weight="700" font-size="11.3" fill="#fff">2676.60</text>
</svg>
<div id="lb"></div><div id="rb"></div>
<!--LEGEND-->
<div class="ic" style="left:347.1px;top:12.0px"><svg width="14" height="14" viewBox="0 0 14 14"><path d="M1.6 7 C3.2 3.6 5.4 2.6 7 2.6 C8.6 2.6 10.8 3.6 12.4 7 C10.8 10.4 8.6 11.4 7 11.4 C5.4 11.4 3.2 10.4 1.6 7Z" fill="#fff"/><circle cx="7" cy="7" r="2.9" fill="#d6d6d6"/><circle cx="7" cy="7" r="1.1" fill="#fff"/></svg></div>
<div class="ic" style="left:364.7px;top:12.0px"><svg width="14" height="14" viewBox="0 0 14 14"><rect x="6.1" y="1.6" width="1.8" height="10.8" rx="0.3" transform="rotate(0 7 7)" fill="#fff"/><rect x="6.1" y="1.6" width="1.8" height="10.8" rx="0.3" transform="rotate(45 7 7)" fill="#fff"/><rect x="6.1" y="1.6" width="1.8" height="10.8" rx="0.3" transform="rotate(90 7 7)" fill="#fff"/><rect x="6.1" y="1.6" width="1.8" height="10.8" rx="0.3" transform="rotate(135 7 7)" fill="#fff"/><circle cx="7" cy="7" r="4.0" fill="#fff"/><circle cx="7" cy="7" r="2.0" fill="#d6d6d6"/></svg></div>
<div class="ic" style="left:114px;top:33.6px"><svg width="14" height="14" viewBox="0 0 14 14"><path d="M1.6 7 C3.2 3.6 5.4 2.6 7 2.6 C8.6 2.6 10.8 3.6 12.4 7 C10.8 10.4 8.6 11.4 7 11.4 C5.4 11.4 3.2 10.4 1.6 7Z" fill="#fff"/><circle cx="7" cy="7" r="2.9" fill="#d6d6d6"/><circle cx="7" cy="7" r="1.1" fill="#fff"/></svg></div>
<div class="ic" style="left:131px;top:33.6px"><svg width="14" height="14" viewBox="0 0 14 14"><rect x="6.1" y="1.6" width="1.8" height="10.8" rx="0.3" transform="rotate(0 7 7)" fill="#fff"/><rect x="6.1" y="1.6" width="1.8" height="10.8" rx="0.3" transform="rotate(45 7 7)" fill="#fff"/><rect x="6.1" y="1.6" width="1.8" height="10.8" rx="0.3" transform="rotate(90 7 7)" fill="#fff"/><rect x="6.1" y="1.6" width="1.8" height="10.8" rx="0.3" transform="rotate(135 7 7)" fill="#fff"/><circle cx="7" cy="7" r="4.0" fill="#fff"/><circle cx="7" cy="7" r="2.0" fill="#d6d6d6"/></svg></div>
<div class="ic" style="left:148px;top:33.6px"><svg width="14" height="14" viewBox="0 0 14 14"><path d="M2.6 2.6 L11.4 11.4 M11.4 2.6 L2.6 11.4" stroke="#fff" stroke-width="1.5" fill="none"/></svg></div>
<div class="ic" style="left:127px;top:54.0px"><svg width="14" height="14" viewBox="0 0 14 14"><path d="M1.6 7 C3.2 3.6 5.4 2.6 7 2.6 C8.6 2.6 10.8 3.6 12.4 7 C10.8 10.4 8.6 11.4 7 11.4 C5.4 11.4 3.2 10.4 1.6 7Z" fill="#fff"/><circle cx="7" cy="7" r="2.9" fill="#d6d6d6"/><circle cx="7" cy="7" r="1.1" fill="#fff"/></svg></div>
<div class="ic" style="left:144px;top:54.0px"><svg width="14" height="14" viewBox="0 0 14 14"><rect x="6.1" y="1.6" width="1.8" height="10.8" rx="0.3" transform="rotate(0 7 7)" fill="#fff"/><rect x="6.1" y="1.6" width="1.8" height="10.8" rx="0.3" transform="rotate(45 7 7)" fill="#fff"/><rect x="6.1" y="1.6" width="1.8" height="10.8" rx="0.3" transform="rotate(90 7 7)" fill="#fff"/><rect x="6.1" y="1.6" width="1.8" height="10.8" rx="0.3" transform="rotate(135 7 7)" fill="#fff"/><circle cx="7" cy="7" r="4.0" fill="#fff"/><circle cx="7" cy="7" r="2.0" fill="#d6d6d6"/></svg></div>
<div class="ic" style="left:161px;top:54.0px"><svg width="14" height="14" viewBox="0 0 14 14"><path d="M2.6 2.6 L11.4 11.4 M11.4 2.6 L2.6 11.4" stroke="#fff" stroke-width="1.5" fill="none"/></svg></div>
<div class="arr" style="left:329.1px;top:17px;border-left-width:4px;border-right-width:4px;border-top-width:4px"></div>
<div class="arr" style="left:95.7px;top:38.6px;border-left-width:3.9px;border-right-width:3.9px;border-top-width:3.7px"></div>
<div class="arr" style="left:108.8px;top:59.1px;border-left-width:3.9px;border-right-width:3.9px;border-top-width:3.7px"></div>
<div style="position:absolute;left:6.4px;top:12.2px;width:10.6px;height:10.6px;border:1px solid #8c8c8c;border-radius:1.5px;"></div>
<div style="position:absolute;left:8.4px;top:17.9px;width:8.4px;height:1px;background:#7a7a7a;"></div>
<div class="ic" style="left:1486.1px;top:27.3px"><svg width="14" height="14" viewBox="0 0 14 14"><path d="M7 2.2 V10" stroke="#fff" stroke-width="1.8"/><path d="M4.2 8.6 L7 12 L9.8 8.6Z" fill="#fff"/></svg></div>
<div class="ic" style="left:1503.8px;top:27.3px"><svg width="14" height="14" viewBox="0 0 14 14"><path d="M7 3.5 V6.2 M7 7.8 V10.5" stroke="#fff" stroke-width="1.8"/><path d="M4.2 4.6 L7 1.4 L9.8 4.6Z" fill="#fff"/><path d="M4.2 9.4 L7 12.6 L9.8 9.4Z" fill="#fff"/></svg></div>
<svg style="position:absolute;left:73px;top:355.1px" width="9" height="8" viewBox="0 0 9 8"><path d="M1.6 6 C1.4 3.4 3.6 1.7 6.9 1.9 C6.9 4.4 4.6 6.3 1.6 6Z" fill="#ff9c1a"/></svg>
<svg id="ltxt" width="1600" height="447" viewBox="0 0 1600 447" style="position:absolute;left:0;top:0;will-change:transform;pointer-events:none">
<text transform="translate(24.77 24.92) scale(0.9734 1.0084) rotate(0.03)" font-family="Liberation Sans, sans-serif" font-size="17" font-weight="400" fill="#4a4a4a" text-rendering="geometricPrecision" >S&amp;P 500, United States, M, NYSE (CFD)</text>
<text transform="translate(386.49 24.82) scale(0.9214 1.0555) rotate(0.03)" font-family="Liberation Sans, sans-serif" font-size="15" font-weight="400" fill="#5a5a5a" text-rendering="geometricPrecision" >O</text>
<text transform="translate(398.60 24.72) scale(0.9841 1.0209) rotate(0.03)" font-family="Liberation Sans, sans-serif" font-size="15" font-weight="400" fill="#5a1414" text-rendering="geometricPrecision" >2979.40</text>
<text transform="translate(461.22 25.33) scale(0.9356 1.0400) rotate(0.03)" font-family="Liberation Sans, sans-serif" font-size="15" font-weight="400" fill="#5a5a5a" text-rendering="geometricPrecision" >H</text>
<text transform="translate(473.15 24.87) scale(0.9674 1.0200) rotate(0.03)" font-family="Liberation Sans, sans-serif" font-size="15" font-weight="400" fill="#5a1414" text-rendering="geometricPrecision" >3013.82</text>
<text transform="translate(535.39 25.19) scale(0.9510 1.0474) rotate(0.03)" font-family="Liberation Sans, sans-serif" font-size="15" font-weight="400" fill="#5a5a5a" text-rendering="geometricPrecision" >L</text>
<text transform="translate(545.00 24.76) scale(0.9751 1.0254) rotate(0.03)" font-family="Liberation Sans, sans-serif" font-size="15" font-weight="400" fill="#5a1414" text-rendering="geometricPrecision" >2821.79</text>
<text transform="translate(607.44 24.84) scale(0.8585 1.0459) rotate(0.03)" font-family="Liberation Sans, sans-serif" font-size="15" font-weight="400" fill="#5a5a5a" text-rendering="geometricPrecision" >C</text>
<text transform="translate(618.32 25.09) scale(0.9600 1.0163) rotate(0.03)" font-family="Liberation Sans, sans-serif" font-size="15" font-weight="400" fill="#5a1414" text-rendering="geometricPrecision" >2847.11</text>
<text transform="translate(4.85 44.50) scale(1.1382 1.0595) rotate(0.03)" font-family="Liberation Sans, sans-serif" font-size="11" font-weight="400" fill="#4a4a4a" text-rendering="geometricPrecision" >MA (9, close, 0)</text>
<text transform="translate(169.92 44.62) scale(0.9921 1.0175) rotate(0.03)" font-family="Liberation Sans, sans-serif" font-size="12" font-weight="400" fill="#0000ff" text-rendering="geometricPrecision" >2810.7756</text>
<text transform="translate(4.70 65.00) scale(1.1155 0.9607) rotate(0.03)" font-family="Liberation Sans, sans-serif" font-size="11" font-weight="400" fill="#4a4a4a" text-rendering="geometricPrecision" >MAC (20, 20, 0, 0)</text>
<text transform="translate(183.12 65.54) scale(0.9984 1.0324) rotate(0.03)" font-family="Liberation Sans, sans-serif" font-size="12" font-weight="400" fill="#0000ff" text-rendering="geometricPrecision" >2865.7455</text>
<text transform="translate(249.32 65.78) scale(0.9891 1.0236) rotate(0.03)" font-family="Liberation Sans, sans-serif" font-size="12" font-weight="400" fill="#cc0000" text-rendering="geometricPrecision" >2676.6000</text>
<text transform="translate(13.62 374.09) scale(1.0413 0.9975) rotate(0.03)" font-family="Liberation Sans, sans-serif" font-size="21.4" font-weight="700" fill="#0a0a0a" text-rendering="geometricPrecision" letter-spacing="-0.6" stroke="#0a0a0a" stroke-width="0.55">Investıng</text>
<text transform="translate(104.93 374.00) scale(0.9627 0.9272) rotate(0.03)" font-family="Liberation Sans, sans-serif" font-size="15.2" font-weight="400" fill="#444" text-rendering="geometricPrecision" >.com</text>
</svg>
<!--/LEGEND-->
</body></html>
